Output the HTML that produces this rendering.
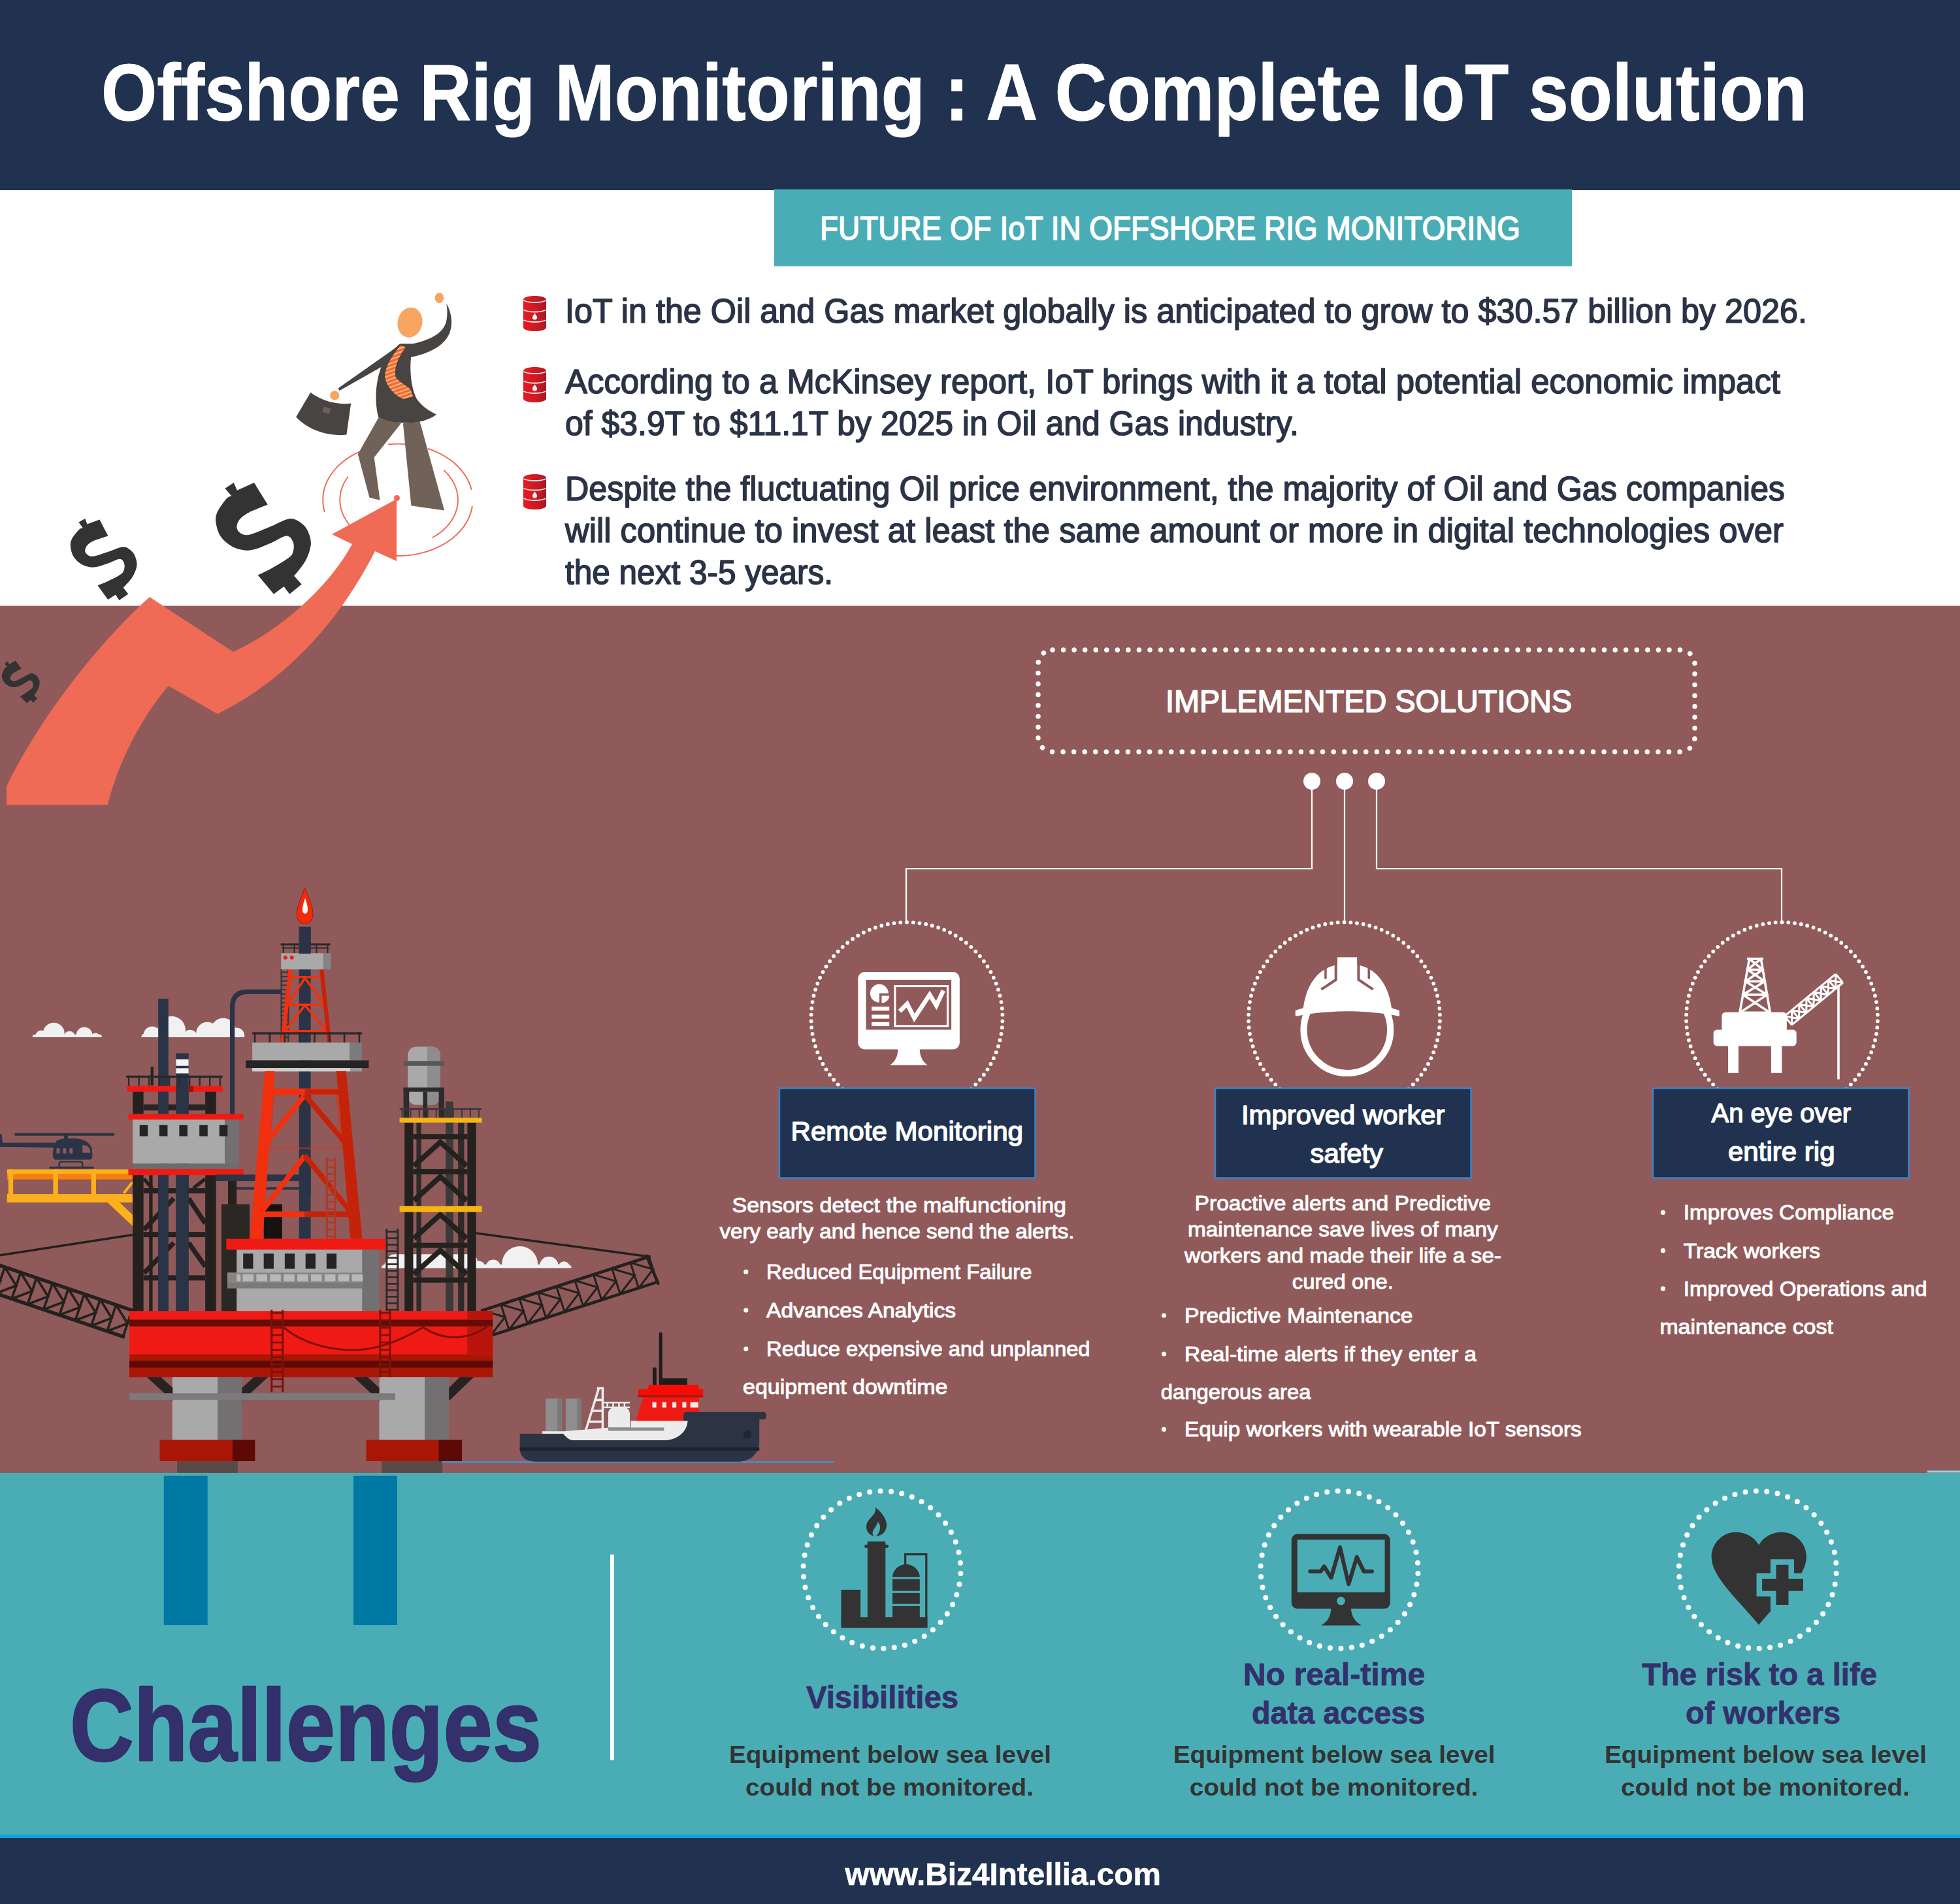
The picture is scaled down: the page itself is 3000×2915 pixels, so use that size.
<!DOCTYPE html>
<html><head><meta charset="utf-8"><title>Offshore Rig Monitoring : A Complete IoT solution</title>
<style>
html,body{margin:0;padding:0;background:#fff;}
body{width:3000px;height:2915px;overflow:hidden;font-family:"Liberation Sans",sans-serif;}
svg{display:block;font-family:"Liberation Sans",sans-serif;}
</style></head><body>
<svg width="3000" height="2915" viewBox="0 0 3000 2915">
<rect x="0" y="0" width="3000" height="2915" fill="#ffffff"/>
<rect x="0" y="0" width="3000" height="291" fill="#203250"/>
<rect x="1185" y="290" width="1221" height="117.5" fill="#4aadb6"/>
<rect x="0" y="927.5" width="3000" height="1328" fill="#905a5b"/>
<rect x="0" y="2255" width="3000" height="556" fill="#4aadb6"/>
<rect x="0" y="2808.5" width="3000" height="6" fill="#0aa5dc"/>
<rect x="0" y="2814" width="3000" height="101" fill="#203250"/>
<g transform="translate(400 420) scale(0.2415)"><polyline points="400.4,1503.8 395.8,1485.3 392.5,1466.6 390.6,1447.8 390.0,1429.0 390.7,1410.1 392.8,1391.4 396.2,1372.7 401.0,1354.2 407.0,1335.9 414.3,1317.8 422.9,1300.1 432.8,1282.8 443.8,1265.9 456.1,1249.4 469.5,1233.4 484.0,1218.0 499.6,1203.2 516.2,1189.0 533.8,1175.5 552.3,1162.8 571.7,1150.7 592.0,1139.5 613.0,1129.1 634.7,1119.5" fill="none" stroke="#ef6b55" stroke-width="8" stroke-linecap="round"/><polyline points="807.1,1077.6 811.6,1077.3 816.0,1076.9 820.5,1076.6 825.0,1076.3 829.5,1076.0 833.9,1075.8 838.4,1075.6 842.9,1075.4 847.4,1075.2 851.9,1075.1 856.4,1075.1 860.9,1075.0 865.3,1075.0 869.8,1075.0 874.3,1075.1 878.8,1075.2 883.3,1075.3 887.8,1075.4 892.3,1075.6 896.8,1075.8 901.2,1076.0 905.7,1076.3 910.2,1076.6 914.7,1076.9" fill="none" stroke="#ef6b55" stroke-width="8" stroke-linecap="round"/><polyline points="1058.2,1105.7 1075.4,1111.7 1092.3,1118.3 1108.8,1125.3 1124.9,1132.8 1140.6,1140.8 1155.8,1149.3 1170.6,1158.2 1184.9,1167.6 1198.7,1177.3 1211.9,1187.5 1224.6,1198.1 1236.7,1209.0 1248.3,1220.3 1259.2,1231.9 1269.5,1243.9 1279.1,1256.1 1288.1,1268.6 1296.4,1281.4 1304.0,1294.4 1310.9,1307.6 1317.1,1321.0 1322.5,1334.6 1327.3,1348.4 1331.3,1362.3" fill="none" stroke="#ef6b55" stroke-width="8" stroke-linecap="round"/><polyline points="1336.5,1473.3 1332.0,1494.7 1325.9,1515.9 1318.0,1536.8 1308.5,1557.2 1297.2,1577.2 1284.4,1596.7 1270.0,1615.5 1254.1,1633.6 1236.7,1651.0 1218.0,1667.5 1197.9,1683.2 1176.6,1697.9 1154.2,1711.6 1130.6,1724.3 1106.1,1735.9 1080.6,1746.3 1054.4,1755.6 1027.5,1763.6 999.9,1770.4 971.9,1775.9 943.4,1780.1 914.7,1783.1 885.7,1784.7 856.7,1784.9" fill="none" stroke="#ef6b55" stroke-width="8" stroke-linecap="round"/><polyline points="561.9,1592.2 552.5,1580.8 543.8,1569.1 535.9,1557.1 528.6,1544.9 522.1,1532.3 516.3,1519.6 511.3,1506.7 507.1,1493.6 503.7,1480.4 501.1,1467.0 499.2,1453.6 498.2,1440.1 498.0,1426.6 498.6,1413.1 500.0,1399.7 502.3,1386.3 505.3,1373.0 509.1,1359.8 513.7,1346.8 519.1,1334.0 525.2,1321.4 532.1,1309.0 539.8,1296.8 548.1,1285.0" fill="none" stroke="#ef6b55" stroke-width="8" stroke-linecap="round"/><polyline points="1158.5,1243.6 1174.4,1259.4 1188.9,1276.0 1201.8,1293.3 1213.2,1311.3 1223.0,1329.8 1231.1,1348.8 1237.4,1368.3 1242.1,1388.0 1244.9,1407.9 1246.0,1427.9 1245.3,1447.9 1242.8,1467.9 1238.5,1487.6 1232.5,1507.1 1224.8,1526.2 1215.4,1544.9 1204.4,1563.0 1191.7,1580.4 1177.6,1597.2 1162.0,1613.2 1145.0,1628.2 1126.7,1642.4 1107.2,1655.5 1086.5,1667.6" fill="none" stroke="#ef6b55" stroke-width="8" stroke-linecap="round"/></g>
<path d="M10,1232 L10,1204 C60,1100 150,985 229,914 L357,998 C420,970 500,905 539,833 L508,818 L607,764 L607,859 L574,844 C520,950 440,1040 333,1093 L258,1050 C215,1100 180,1170 165,1232 Z" fill="#ef6b55"/>
<circle cx="607.5" cy="762.5" r="4.5" fill="#ef6b55"/>
<g transform="translate(158 856.5) rotate(4) scale(0.0821) translate(-890 -900)"><path d="M385,240 L500,165 L545,265 L770,165 L950,455 C908.3,472.5 761.7,527.5 700.0,560.0 C638.3,592.5 606.7,616.7 580.0,650.0 C553.3,683.3 536.7,728.3 540.0,760.0 C543.3,791.7 570.0,825.0 600.0,840.0 C630.0,855.0 653.3,866.7 720.0,850.0 C786.7,833.3 911.7,775.0 1000.0,740.0 C1088.3,705.0 1180.0,643.3 1250.0,640.0 C1320.0,636.7 1378.3,685.0 1420.0,720.0 C1461.7,755.0 1483.3,803.3 1500.0,850.0 C1516.7,896.7 1528.3,941.7 1520.0,1000.0 C1511.7,1058.3 1486.7,1133.3 1450.0,1200.0 C1413.3,1266.7 1325.0,1366.7 1300.0,1400.0 L1400,1510 L1240,1640 L1165,1540 L1030,1640 L820,1390 C850.0,1375.0 936.7,1335.0 1000.0,1300.0 C1063.3,1265.0 1153.3,1213.3 1200.0,1180.0 C1246.7,1146.7 1265.0,1136.7 1280.0,1100.0 C1295.0,1063.3 1303.3,998.3 1290.0,960.0 C1276.7,921.7 1248.3,870.0 1200.0,870.0 C1151.7,870.0 1066.7,931.7 1000.0,960.0 C933.3,988.3 858.3,1023.3 800.0,1040.0 C741.7,1056.7 703.3,1065.0 650.0,1060.0 C596.7,1055.0 533.3,1040.0 480.0,1010.0 C426.7,980.0 365.8,931.7 330.0,880.0 C294.2,828.3 273.3,753.3 265.0,700.0 C256.7,646.7 257.5,613.3 280.0,560.0 C302.5,506.7 368.3,416.7 400.0,380.0 C431.7,343.3 458.3,346.7 470.0,340.0 Z" fill="#333333"/></g>
<g transform="translate(402.8 824) rotate(0) scale(0.1155) translate(-890 -900)"><path d="M385,240 L500,165 L545,265 L770,165 L950,455 C908.3,472.5 761.7,527.5 700.0,560.0 C638.3,592.5 606.7,616.7 580.0,650.0 C553.3,683.3 536.7,728.3 540.0,760.0 C543.3,791.7 570.0,825.0 600.0,840.0 C630.0,855.0 653.3,866.7 720.0,850.0 C786.7,833.3 911.7,775.0 1000.0,740.0 C1088.3,705.0 1180.0,643.3 1250.0,640.0 C1320.0,636.7 1378.3,685.0 1420.0,720.0 C1461.7,755.0 1483.3,803.3 1500.0,850.0 C1516.7,896.7 1528.3,941.7 1520.0,1000.0 C1511.7,1058.3 1486.7,1133.3 1450.0,1200.0 C1413.3,1266.7 1325.0,1366.7 1300.0,1400.0 L1400,1510 L1240,1640 L1165,1540 L1030,1640 L820,1390 C850.0,1375.0 936.7,1335.0 1000.0,1300.0 C1063.3,1265.0 1153.3,1213.3 1200.0,1180.0 C1246.7,1146.7 1265.0,1136.7 1280.0,1100.0 C1295.0,1063.3 1303.3,998.3 1290.0,960.0 C1276.7,921.7 1248.3,870.0 1200.0,870.0 C1151.7,870.0 1066.7,931.7 1000.0,960.0 C933.3,988.3 858.3,1023.3 800.0,1040.0 C741.7,1056.7 703.3,1065.0 650.0,1060.0 C596.7,1055.0 533.3,1040.0 480.0,1010.0 C426.7,980.0 365.8,931.7 330.0,880.0 C294.2,828.3 273.3,753.3 265.0,700.0 C256.7,646.7 257.5,613.3 280.0,560.0 C302.5,506.7 368.3,416.7 400.0,380.0 C431.7,343.3 458.3,346.7 470.0,340.0 Z" fill="#333333"/></g>
<g transform="translate(32 1044) rotate(-5) scale(0.045) translate(-890 -900)"><path d="M385,240 L500,165 L545,265 L770,165 L950,455 C908.3,472.5 761.7,527.5 700.0,560.0 C638.3,592.5 606.7,616.7 580.0,650.0 C553.3,683.3 536.7,728.3 540.0,760.0 C543.3,791.7 570.0,825.0 600.0,840.0 C630.0,855.0 653.3,866.7 720.0,850.0 C786.7,833.3 911.7,775.0 1000.0,740.0 C1088.3,705.0 1180.0,643.3 1250.0,640.0 C1320.0,636.7 1378.3,685.0 1420.0,720.0 C1461.7,755.0 1483.3,803.3 1500.0,850.0 C1516.7,896.7 1528.3,941.7 1520.0,1000.0 C1511.7,1058.3 1486.7,1133.3 1450.0,1200.0 C1413.3,1266.7 1325.0,1366.7 1300.0,1400.0 L1400,1510 L1240,1640 L1165,1540 L1030,1640 L820,1390 C850.0,1375.0 936.7,1335.0 1000.0,1300.0 C1063.3,1265.0 1153.3,1213.3 1200.0,1180.0 C1246.7,1146.7 1265.0,1136.7 1280.0,1100.0 C1295.0,1063.3 1303.3,998.3 1290.0,960.0 C1276.7,921.7 1248.3,870.0 1200.0,870.0 C1151.7,870.0 1066.7,931.7 1000.0,960.0 C933.3,988.3 858.3,1023.3 800.0,1040.0 C741.7,1056.7 703.3,1065.0 650.0,1060.0 C596.7,1055.0 533.3,1040.0 480.0,1010.0 C426.7,980.0 365.8,931.7 330.0,880.0 C294.2,828.3 273.3,753.3 265.0,700.0 C256.7,646.7 257.5,613.3 280.0,560.0 C302.5,506.7 368.3,416.7 400.0,380.0 C431.7,343.3 458.3,346.7 470.0,340.0 Z" fill="#333333"/></g>
<g transform="translate(400 420) scale(0.2415)"><polygon points="745,905 885,945 715,1160 752,1432 685,1415 612,1140" fill="#716259"/><polygon points="898,945 1005,935 1160,1497 950,1467" fill="#716259"/><polygon points="885,442 488,722 494,738 800,565" fill="#484441"/><path d="M940,445 C1060,420 1150,380 1172,300 C1180,260 1180,220 1173,185 C1200,230 1212,290 1202,340 C1185,440 1080,500 935,528 Z" fill="#484441"/><path d="M878,440 L962,440 C935,560 940,700 985,790 C1020,840 1070,870 1110,888 C1060,930 960,950 870,940 C820,935 775,920 742,905 C715,800 720,650 790,520 Z" fill="#484441"/><path d="M882,450 L915,462 C870,520 840,590 850,650 C880,690 930,710 945,730 L962,775 L900,790 C850,770 800,720 785,660 C780,600 810,540 882,450 Z" fill="#f26a3c"/><clipPath id="tieclip"><path d="M882,450 L915,462 C870,520 840,590 850,650 C880,690 930,710 945,730 L962,775 L900,790 C850,770 800,720 785,660 C780,600 810,540 882,450 Z"/></clipPath><g clip-path="url(#tieclip)"><line x1="760" y1="510" x2="990" y2="430" stroke="#fbb471" stroke-width="9"/><line x1="760" y1="535" x2="990" y2="455" stroke="#fbb471" stroke-width="9"/><line x1="760" y1="560" x2="990" y2="480" stroke="#fbb471" stroke-width="9"/><line x1="760" y1="585" x2="990" y2="505" stroke="#fbb471" stroke-width="9"/><line x1="760" y1="610" x2="990" y2="530" stroke="#fbb471" stroke-width="9"/><line x1="760" y1="635" x2="990" y2="555" stroke="#fbb471" stroke-width="9"/><line x1="760" y1="660" x2="990" y2="580" stroke="#fbb471" stroke-width="9"/><line x1="760" y1="685" x2="990" y2="605" stroke="#fbb471" stroke-width="9"/><line x1="760" y1="710" x2="990" y2="630" stroke="#fbb471" stroke-width="9"/><line x1="760" y1="735" x2="990" y2="655" stroke="#fbb471" stroke-width="9"/><line x1="760" y1="760" x2="990" y2="680" stroke="#fbb471" stroke-width="9"/><line x1="760" y1="785" x2="990" y2="705" stroke="#fbb471" stroke-width="9"/><line x1="760" y1="810" x2="990" y2="730" stroke="#fbb471" stroke-width="9"/><line x1="760" y1="835" x2="990" y2="755" stroke="#fbb471" stroke-width="9"/></g><ellipse cx="942" cy="305" rx="78" ry="96" fill="#f8a562" transform="rotate(12 942 305)"/><ellipse cx="1128" cy="150" rx="28" ry="33" fill="#f8a562"/><circle cx="465" cy="768" r="29" fill="#f8a562"/><path d="M312,748 C380,800 480,830 568,818 L540,1017 C430,1030 300,990 220,905 Z" fill="#484441"/><polygon points="395,840 440,850 432,885 387,875" fill="#6b5f57"/></g>
<clipPath id="cl1"><rect x="-10.350000000000001" y="1287.8" width="226.39" height="300"/></clipPath><g clip-path="url(#cl1)"><rect x="49.65" y="1583.83" width="106.39" height="7.94" rx="3.97" fill="#f1f1f1"/><circle cx="82.27" cy="1582.13" r="16.45" fill="#f1f1f1" /><circle cx="62.98" cy="1586.1" r="8.51" fill="#f1f1f1" /><circle cx="106.39" cy="1587.24" r="8.51" fill="#f1f1f1" /><circle cx="129.08" cy="1584.97" r="12.48" fill="#f1f1f1" /><circle cx="146.11" cy="1588.37" r="6.81" fill="#f1f1f1" /></g>
<clipPath id="cl2"><rect x="156.32" y="1287.98" width="277.51" height="300"/></clipPath><g clip-path="url(#cl2)"><rect x="216.32" y="1582.02" width="157.51" height="11.94" rx="5.97" fill="#f1f1f1"/><circle cx="232.9" cy="1584.67" r="13.26" fill="#f1f1f1" /><circle cx="262.74" cy="1577.04" r="21.22" fill="#f1f1f1" /><circle cx="290.93" cy="1587.98" r="11.27" fill="#f1f1f1" /><circle cx="317.46" cy="1582.02" r="17.24" fill="#f1f1f1" /><circle cx="341.66" cy="1578.04" r="19.23" fill="#f1f1f1" /><circle cx="362.22" cy="1585.33" r="11.94" fill="#f1f1f1" /></g>
<clipPath id="cl3"><rect x="523.93" y="1641.33" width="410.81" height="300"/></clipPath><g clip-path="url(#cl3)"><rect x="583.93" y="1935.71" width="290.81" height="11.22" rx="5.61" fill="#f1f1f1"/><circle cx="795.66" cy="1935.46" r="27.55" fill="#f1f1f1" /><circle cx="754.85" cy="1939.8" r="11.22" fill="#f1f1f1" /><circle cx="733.16" cy="1939.8" r="9.18" fill="#f1f1f1" /><circle cx="840.31" cy="1938.01" r="14.29" fill="#f1f1f1" /><circle cx="863.26" cy="1939.8" r="8.67" fill="#f1f1f1" /><circle cx="599.24" cy="1939.8" r="11.73" fill="#f1f1f1" /><circle cx="707.65" cy="1939.8" r="11.22" fill="#f1f1f1" /></g>
<rect x="592.86" y="1920.15" width="137.75" height="21.17" rx="10.2" fill="#f1f1f1"/>
<line x1="0.0" y1="1921.72" x2="202.85" y2="1890.51" stroke="#24211f" stroke-width="3.4" />
<line x1="726.79" y1="1887.75" x2="994.64" y2="1923.98" stroke="#24211f" stroke-width="3.57" />
<g transform="translate(-17.02 1931.65) rotate(18.75)"><path d="M0.0,0 V42.5 M0.0,0 L25.7,21.3 L0.0,42.5 M25.7,0 V42.5 M25.7,0 L51.4,21.3 L25.7,42.5 M51.4,0 V42.5 M51.4,0 L77.1,21.3 L51.4,42.5 M77.1,0 V42.5 M77.1,0 L102.8,21.3 L77.1,42.5 M102.8,0 V42.5 M102.8,0 L128.5,21.3 L102.8,42.5 M128.5,0 V42.5 M128.5,0 L154.2,21.3 L128.5,42.5 M154.2,0 V42.5 M154.2,0 L179.9,21.3 L154.2,42.5 M179.9,0 V42.5 M179.9,0 L205.6,21.3 L179.9,42.5 M205.6,0 V42.5 M205.6,0 L231.3,21.3 L205.6,42.5 M231.3,0 V42.5" fill="none" stroke="#24211f" stroke-width="3.69"/><path d="M0,0 H231.3 M0,42.5 H231.3" fill="none" stroke="#24211f" stroke-width="5.39" stroke-linecap="square"/></g>
<g transform="translate(738.26 2006.12) rotate(-17.85)"><path d="M0.0,0 V40.8 M0.0,0 L29.8,20.4 L0.0,40.8 M29.8,0 V40.8 M29.8,0 L59.6,20.4 L29.8,40.8 M59.6,0 V40.8 M59.6,0 L89.3,20.4 L59.6,40.8 M89.3,0 V40.8 M89.3,0 L119.1,20.4 L89.3,40.8 M119.1,0 V40.8 M119.1,0 L148.9,20.4 L119.1,40.8 M148.9,0 V40.8 M148.9,0 L178.7,20.4 L148.9,40.8 M178.7,0 V40.8 M178.7,0 L208.5,20.4 L178.7,40.8 M208.5,0 V40.8 M208.5,0 L238.2,20.4 L208.5,40.8 M238.2,0 V40.8 M238.2,0 L268.0,20.4 L238.2,40.8 M268.0,0 V40.8" fill="none" stroke="#24211f" stroke-width="3.06"/><path d="M0,0 H268.0 M0,40.8 H268.0" fill="none" stroke="#24211f" stroke-width="4.59" stroke-linecap="square"/></g>
<line x1="989.54" y1="1922.7" x2="1007.4" y2="1964.8" stroke="#24211f" stroke-width="4.59" stroke-linecap="round"/>
<polygon points="163.13,1839.44 181.57,1839.44 203.7,1860.72 203.7,1877.74" fill="#fbb01c" />
<rect x="10.78" y="1790.36" width="192.06" height="7.38" fill="#fbb01c" />
<rect x="10.78" y="1797.17" width="192.06" height="8.51" fill="#f77f0d" />
<rect x="12.77" y="1790.36" width="7.38" height="50.5" fill="#fbb01c" />
<rect x="81.42" y="1790.36" width="7.38" height="50.5" fill="#fbb01c" />
<rect x="139.58" y="1790.36" width="7.38" height="50.5" fill="#fbb01c" />
<rect x="10.78" y="1828.1" width="192.06" height="12.77" fill="#fbb01c" />
<line x1="189.51" y1="1826.68" x2="202.85" y2="1809.66" stroke="#fbb01c" stroke-width="3.97" />
<g transform="translate(0 1560) scale(0.2837)"><rect x="78" y="616" width="540" height="14" rx="6" fill="#2b3447"/><rect x="345" y="628" width="22" height="26" fill="#2b3447"/><path d="M300,670 C300,650 330,645 395,645 C470,645 498,680 498,720 V745 C498,755 490,760 480,760 H300 C285,760 275,720 300,670 Z" fill="#2b3447"/><path d="M0,668 L300,668 V694 L0,690 Z" fill="#2b3447"/><path d="M-10,620 L8,620 L18,690 L-10,690 Z" fill="#2b3447"/><path d="M445,680 C475,680 488,700 488,722 H445 Z" fill="#905a5b"/><rect x="305" y="698" width="17" height="28" rx="4" fill="#905a5b"/><rect x="340" y="698" width="17" height="28" rx="4" fill="#905a5b"/><rect x="375" y="698" width="17" height="28" rx="4" fill="#905a5b"/><path d="M320,800 V780 C320,772 328,770 335,770 H430 C440,770 445,775 445,782 V800" fill="none" stroke="#2b3447" stroke-width="9"/><rect x="265" y="797" width="242" height="11" rx="5" fill="#2b3447"/></g>
<rect x="242.18" y="1528.96" width="15.59" height="301.09" fill="#2b3447" />
<rect x="242.18" y="1780.0" width="15.59" height="228.8" fill="#2b3447" />
<rect x="269.38" y="1612.52" width="19.23" height="217.53" fill="#2b3447" />
<rect x="269.38" y="1780.0" width="19.23" height="228.8" fill="#2b3447" />
<rect x="269.38" y="1621.81" width="19.23" height="9.95" fill="#f4f4f4" />
<rect x="269.38" y="1635.4" width="19.23" height="7.96" fill="#f4f4f4" />
<rect x="230.58" y="1633.41" width="4.31" height="28.19" fill="#24211f" />
<rect x="193.11" y="1646.68" width="147.56" height="3.32" fill="#2a2a2c" /><rect x="195.93" y="1646.68" width="2.32" height="15.92" fill="#2a2a2c" /><rect x="211.44" y="1646.68" width="2.32" height="15.92" fill="#2a2a2c" /><rect x="226.95" y="1646.68" width="2.32" height="15.92" fill="#2a2a2c" /><rect x="242.46" y="1646.68" width="2.32" height="15.92" fill="#2a2a2c" /><rect x="257.97" y="1646.68" width="2.32" height="15.92" fill="#2a2a2c" /><rect x="273.48" y="1646.68" width="2.32" height="15.92" fill="#2a2a2c" /><rect x="289.0" y="1646.68" width="2.32" height="15.92" fill="#2a2a2c" /><rect x="304.51" y="1646.68" width="2.32" height="15.92" fill="#2a2a2c" /><rect x="320.02" y="1646.68" width="2.32" height="15.92" fill="#2a2a2c" /><rect x="335.53" y="1646.68" width="2.32" height="15.92" fill="#2a2a2c" />
<rect x="194.1" y="1662.59" width="146.57" height="8.95" fill="#f01a14" />
<rect x="288.61" y="1662.59" width="7.3" height="8.95" fill="#a00f0a" />
<rect x="203.06" y="1671.55" width="16.58" height="34.82" fill="#24211f" />
<rect x="314.14" y="1671.55" width="16.58" height="34.82" fill="#24211f" />
<rect x="219.64" y="1690.78" width="94.51" height="9.28" fill="#24211f" opacity="0.95"/>
<rect x="242.18" y="1671.55" width="15.59" height="34.82" fill="#2b3447" />
<rect x="269.38" y="1661.6" width="19.23" height="44.77" fill="#2b3447" />
<path d="M431.86,1518.35 H378.8 Q355.59,1518.35 355.59,1542.22 V1706.37" fill="none" stroke="#2b3447" stroke-width="7.3"/>
<rect x="196.42" y="1705.37" width="176.41" height="8.62" fill="#f01a14" />
<rect x="203.06" y="1713.99" width="140.93" height="67.65" fill="#a9a9a9" />
<rect x="343.99" y="1713.99" width="21.55" height="67.65" fill="#737071" />
<rect x="203.06" y="1781.64" width="162.48" height="8.62" fill="#6e6b6c" />
<rect x="213.67" y="1722.28" width="12.6" height="17.24" fill="#262322" />
<rect x="243.84" y="1722.28" width="12.6" height="17.24" fill="#262322" />
<rect x="274.35" y="1722.28" width="12.6" height="17.24" fill="#262322" />
<rect x="305.19" y="1722.28" width="12.6" height="17.24" fill="#262322" />
<rect x="335.7" y="1722.28" width="12.6" height="17.24" fill="#262322" />
<rect x="196.42" y="1789.95" width="176.41" height="9.28" fill="#f01a14" />
<rect x="203.06" y="1799.23" width="16.58" height="209.57" fill="#24211f" />
<rect x="314.14" y="1799.23" width="16.58" height="209.57" fill="#24211f" />
<rect x="348.96" y="1799.23" width="13.26" height="209.57" fill="#24211f" />
<rect x="228.26" y="1799.23" width="5.31" height="209.57" fill="#24211f" />
<rect x="219.64" y="1819.13" width="94.51" height="7.96" fill="#24211f" />
<rect x="219.64" y="1886.11" width="94.51" height="7.96" fill="#24211f" />
<rect x="219.64" y="1952.43" width="94.51" height="7.96" fill="#24211f" />
<line x1="266.06" y1="1834.71" x2="220.3" y2="1882.8" stroke="#24211f" stroke-width="7.3" />
<line x1="288.61" y1="1834.71" x2="314.14" y2="1872.85" stroke="#24211f" stroke-width="7.3" />
<line x1="266.06" y1="1902.69" x2="220.3" y2="1949.12" stroke="#24211f" stroke-width="7.3" />
<line x1="288.61" y1="1902.69" x2="314.14" y2="1939.17" stroke="#24211f" stroke-width="7.3" />
<line x1="220.3" y1="1804.87" x2="232.9" y2="1819.13" stroke="#24211f" stroke-width="5.31" />
<line x1="314.14" y1="1804.87" x2="295.9" y2="1819.13" stroke="#24211f" stroke-width="5.31" />
<rect x="242.18" y="1799.23" width="15.59" height="209.57" fill="#2b3447" />
<rect x="269.38" y="1799.23" width="19.23" height="209.57" fill="#2b3447" />
<rect x="330.72" y="1798.24" width="127.67" height="9.95" fill="#2b3447" />
<rect x="362.22" y="1817.47" width="96.16" height="3.98" fill="#2b3447" />
<rect x="339.01" y="1843.67" width="43.11" height="165.14" fill="#2a2725" />
<rect x="403.67" y="1843.67" width="28.19" height="53.06" fill="#17120f" />
<rect x="457.72" y="1418.87" width="17.91" height="411.18" fill="#2b3447" />
<rect x="457.72" y="1780.0" width="17.91" height="116.72" fill="#2b3447" />
<rect x="429.54" y="1484.19" width="2.32" height="111.09" fill="#3a3637" /><rect x="440.15" y="1484.19" width="2.32" height="111.09" fill="#3a3637" /><rect x="429.54" y="1487.51" width="12.93" height="2.09" fill="#3a3637" /><rect x="429.54" y="1494.14" width="12.93" height="2.09" fill="#3a3637" /><rect x="429.54" y="1500.77" width="12.93" height="2.09" fill="#3a3637" /><rect x="429.54" y="1507.41" width="12.93" height="2.09" fill="#3a3637" /><rect x="429.54" y="1514.04" width="12.93" height="2.09" fill="#3a3637" /><rect x="429.54" y="1520.67" width="12.93" height="2.09" fill="#3a3637" /><rect x="429.54" y="1527.3" width="12.93" height="2.09" fill="#3a3637" /><rect x="429.54" y="1533.93" width="12.93" height="2.09" fill="#3a3637" /><rect x="429.54" y="1540.57" width="12.93" height="2.09" fill="#3a3637" /><rect x="429.54" y="1547.2" width="12.93" height="2.09" fill="#3a3637" /><rect x="429.54" y="1553.83" width="12.93" height="2.09" fill="#3a3637" /><rect x="429.54" y="1560.46" width="12.93" height="2.09" fill="#3a3637" /><rect x="429.54" y="1567.09" width="12.93" height="2.09" fill="#3a3637" /><rect x="429.54" y="1573.73" width="12.93" height="2.09" fill="#3a3637" /><rect x="429.54" y="1580.36" width="12.93" height="2.09" fill="#3a3637" /><rect x="429.54" y="1586.99" width="12.93" height="2.09" fill="#3a3637" />
<g transform="translate(150 1330) scale(0.3316)"><path d="M888,465 L852,800 M1032,465 L1068,800" fill="none" stroke="#f2300f" stroke-width="19" stroke-linejoin="round"/></g>
<g transform="translate(150 1330) scale(0.3316)"><path d="M884,500 H1036 M872,628 H1048 M858,750 H1062 M955,505 L876,625 M955,505 L1044,625 M955,630 L865,748 M955,630 L1056,748" fill="none" stroke="#f2300f" stroke-width="11"/></g>
<g transform="translate(150 1330) scale(0.3316)"><path d="M1032,465 L1068,800" fill="none" stroke="#c4230a" stroke-width="19"/></g>
<rect x="429.54" y="1444.4" width="75.94" height="2.98" fill="#2a2a2c" /><rect x="432.19" y="1450.37" width="70.63" height="1.99" fill="#2a2a2c" /><rect x="432.52" y="1444.4" width="1.99" height="14.92" fill="#2a2a2c" /><rect x="449.52" y="1444.4" width="1.99" height="14.92" fill="#2a2a2c" /><rect x="466.51" y="1444.4" width="1.99" height="14.92" fill="#2a2a2c" /><rect x="483.51" y="1444.4" width="1.99" height="14.92" fill="#2a2a2c" /><rect x="500.5" y="1444.4" width="1.99" height="14.92" fill="#2a2a2c" />
<rect x="430.2" y="1459.32" width="64.66" height="24.87" fill="#a9a9a9" />
<rect x="494.86" y="1459.32" width="11.61" height="24.87" fill="#858585" />
<circle cx="436.83" cy="1465.96" r="2.98" fill="#f01a14" />
<circle cx="446.78" cy="1465.96" r="2.98" fill="#f01a14" />
<rect x="457.72" y="1418.87" width="17.91" height="41.12" fill="#2b3447" />
<g transform="translate(150 1330) scale(0.3316)"><path d="M955,88 C975,140 994,180 992,215 C990,240 975,255 955,255 C935,255 920,240 918,215 C916,180 935,140 955,88 Z" fill="#f22a0c" stroke="#a3150a" stroke-width="3"/><path d="M956,135 C964,160 969,178 968,192 C967,202 962,207 956,207 C950,207 945,202 944,192 C943,178 948,160 956,135 Z" fill="#fff"/></g>
<rect x="386.1" y="1580.36" width="167.79" height="3.32" fill="#2a2a2c" /><rect x="388.75" y="1580.36" width="2.65" height="15.92" fill="#2a2a2c" /><rect x="411.59" y="1580.36" width="2.65" height="15.92" fill="#2a2a2c" /><rect x="434.42" y="1580.36" width="2.65" height="15.92" fill="#2a2a2c" /><rect x="457.25" y="1580.36" width="2.65" height="15.92" fill="#2a2a2c" /><rect x="480.08" y="1580.36" width="2.65" height="15.92" fill="#2a2a2c" /><rect x="502.92" y="1580.36" width="2.65" height="15.92" fill="#2a2a2c" /><rect x="525.75" y="1580.36" width="2.65" height="15.92" fill="#2a2a2c" /><rect x="548.58" y="1580.36" width="2.65" height="15.92" fill="#2a2a2c" />
<rect x="386.1" y="1596.27" width="149.22" height="27.19" fill="#a9a9a9" />
<rect x="535.32" y="1596.27" width="18.57" height="27.19" fill="#7b7b7b" />
<rect x="376.15" y="1623.47" width="188.35" height="11.61" fill="#242424" />
<rect x="386.1" y="1635.07" width="150.21" height="5.31" fill="#cfcfcf" />
<rect x="536.31" y="1635.07" width="17.57" height="5.31" fill="#9a9a9a" />
<g transform="translate(150 1330) scale(0.3316)"><g opacity="0.9"></g><path d="M764,1290 H1154 M810,1045 L794,1290 M1100,1045 L1124,1290" fill="none" stroke="#d9321a" stroke-width="5"/><path d="M784,1030 H1131" fill="none" stroke="#f2300f" stroke-width="30"/><path d="M955,1045 L776,1265 M955,1045 L1142,1265 M955,1325 L750,1590 M955,1325 L1171,1590" fill="none" stroke="#f2300f" stroke-width="24"/><path d="M955,1045 L1142,1265 M955,1325 L1171,1590 M955,1030 H1131" fill="none" stroke="#c4230a" stroke-width="24"/><rect x="739" y="1582" width="216" height="26" fill="#f2300f"/><rect x="955" y="1582" width="227" height="26" fill="#c4230a"/><polygon points="770,935 815,935 760,1709 700,1709" fill="#f2300f"/><polygon points="1100,935 1145,935 1220,1709 1165,1709" fill="#c4230a"/></g>
<rect x="498.84" y="1771.71" width="2.98" height="125.01" fill="#b0392a" /><rect x="511.11" y="1771.71" width="2.98" height="125.01" fill="#b0392a" /><rect x="498.84" y="1775.03" width="15.25" height="2.69" fill="#b0392a" /><rect x="498.84" y="1785.64" width="15.25" height="2.69" fill="#b0392a" /><rect x="498.84" y="1796.25" width="15.25" height="2.69" fill="#b0392a" /><rect x="498.84" y="1806.86" width="15.25" height="2.69" fill="#b0392a" /><rect x="498.84" y="1817.47" width="15.25" height="2.69" fill="#b0392a" /><rect x="498.84" y="1828.08" width="15.25" height="2.69" fill="#b0392a" /><rect x="498.84" y="1838.69" width="15.25" height="2.69" fill="#b0392a" /><rect x="498.84" y="1849.3" width="15.25" height="2.69" fill="#b0392a" /><rect x="498.84" y="1859.92" width="15.25" height="2.69" fill="#b0392a" /><rect x="498.84" y="1870.53" width="15.25" height="2.69" fill="#b0392a" /><rect x="498.84" y="1881.14" width="15.25" height="2.69" fill="#b0392a" /><rect x="498.84" y="1891.75" width="15.25" height="2.69" fill="#b0392a" />
<rect x="624.19" y="1602.58" width="49.74" height="88.87" rx="12.6" fill="#a9a9a9"/>
<path d="M654.03,1602.58 H661.33 a12.6,12.6 0 0 1 12.6,12.6 V1678.84 a12.6,12.6 0 0 1 -12.6,12.6 H654.03 Z" fill="#8d8d8d"/>
<rect x="618.22" y="1624.46" width="61.68" height="7.3" fill="#575757" />
<rect x="617.56" y="1664.92" width="62.34" height="6.63" fill="#2e2b2b" />
<rect x="617.56" y="1664.92" width="8.62" height="46.42" fill="#2e2b2b" />
<rect x="671.61" y="1664.92" width="8.29" height="46.42" fill="#2e2b2b" />
<rect x="647.4" y="1671.55" width="6.63" height="39.79" fill="#2e2b2b" />
<rect x="682.22" y="1686.47" width="11.61" height="143.58" fill="#3c3939" />
<rect x="682.22" y="1780.0" width="11.61" height="228.8" fill="#3c3939" />
<rect x="611.59" y="1696.42" width="125.34" height="2.65" fill="#3a3738" /><rect x="614.57" y="1696.42" width="1.99" height="14.92" fill="#3a3738" /><rect x="627.61" y="1696.42" width="1.99" height="14.92" fill="#3a3738" /><rect x="640.66" y="1696.42" width="1.99" height="14.92" fill="#3a3738" /><rect x="653.7" y="1696.42" width="1.99" height="14.92" fill="#3a3738" /><rect x="666.74" y="1696.42" width="1.99" height="14.92" fill="#3a3738" /><rect x="679.79" y="1696.42" width="1.99" height="14.92" fill="#3a3738" /><rect x="692.83" y="1696.42" width="1.99" height="14.92" fill="#3a3738" /><rect x="705.87" y="1696.42" width="1.99" height="14.92" fill="#3a3738" /><rect x="718.92" y="1696.42" width="1.99" height="14.92" fill="#3a3738" /><rect x="731.96" y="1696.42" width="1.99" height="14.92" fill="#3a3738" />
<rect x="619.21" y="1718.65" width="13.26" height="290.15" fill="#24211f" /><rect x="715.38" y="1718.65" width="13.26" height="290.15" fill="#24211f" /><rect x="637.45" y="1718.65" width="7.3" height="290.15" fill="#2d2a29" /><rect x="701.12" y="1718.65" width="9.28" height="290.15" fill="#2d2a29" />
<rect x="632.48" y="1736.23" width="82.9" height="7.96" fill="#24211f" />
<rect x="632.48" y="1789.95" width="82.9" height="7.96" fill="#24211f" />
<rect x="632.48" y="1846.32" width="82.9" height="7.96" fill="#24211f" />
<rect x="632.48" y="1902.69" width="82.9" height="7.96" fill="#24211f" />
<rect x="632.48" y="1955.75" width="82.9" height="7.96" fill="#24211f" />
<g transform="translate(150 1780) scale(0.3316)"><path d="M1458,15 L1580,-95 L1702,15" fill="none" stroke="#24211f" stroke-width="24"/></g>
<g transform="translate(150 1780) scale(0.3316)"><path d="M1458,175 L1580,65 L1702,175" fill="none" stroke="#24211f" stroke-width="24"/></g>
<g transform="translate(150 1780) scale(0.3316)"><path d="M1458,350 L1580,240 L1702,350" fill="none" stroke="#24211f" stroke-width="24"/></g>
<g transform="translate(150 1780) scale(0.3316)"><path d="M1458,515 L1580,405 L1702,515" fill="none" stroke="#24211f" stroke-width="24"/></g>
<rect x="611.59" y="1711.34" width="126.01" height="7.3" fill="#f7b512" />
<rect x="611.59" y="1846.32" width="126.01" height="9.28" fill="#f7b512" />
<rect x="590.36" y="1881.14" width="2.98" height="127.67" fill="#2e2b2c" /><rect x="607.28" y="1881.14" width="2.98" height="127.67" fill="#2e2b2c" /><rect x="590.36" y="1884.45" width="19.9" height="2.69" fill="#2e2b2c" /><rect x="590.36" y="1894.4" width="19.9" height="2.69" fill="#2e2b2c" /><rect x="590.36" y="1904.35" width="19.9" height="2.69" fill="#2e2b2c" /><rect x="590.36" y="1914.3" width="19.9" height="2.69" fill="#2e2b2c" /><rect x="590.36" y="1924.25" width="19.9" height="2.69" fill="#2e2b2c" /><rect x="590.36" y="1934.19" width="19.9" height="2.69" fill="#2e2b2c" /><rect x="590.36" y="1944.14" width="19.9" height="2.69" fill="#2e2b2c" /><rect x="590.36" y="1954.09" width="19.9" height="2.69" fill="#2e2b2c" /><rect x="590.36" y="1964.04" width="19.9" height="2.69" fill="#2e2b2c" /><rect x="590.36" y="1973.99" width="19.9" height="2.69" fill="#2e2b2c" /><rect x="590.36" y="1983.93" width="19.9" height="2.69" fill="#2e2b2c" /><rect x="590.36" y="1993.88" width="19.9" height="2.69" fill="#2e2b2c" /><rect x="590.36" y="2003.83" width="19.9" height="2.69" fill="#2e2b2c" />
<rect x="346.31" y="1896.72" width="244.06" height="16.58" fill="#f01a14" />
<rect x="362.22" y="1913.3" width="192.33" height="95.5" fill="#a9a9a9" />
<rect x="554.55" y="1913.3" width="25.86" height="95.5" fill="#737071" />
<rect x="372.17" y="1919.27" width="15.25" height="23.21" fill="#262322" />
<rect x="403.67" y="1919.27" width="15.25" height="23.21" fill="#262322" />
<rect x="435.84" y="1919.27" width="15.25" height="23.21" fill="#262322" />
<rect x="467.67" y="1919.27" width="15.25" height="23.21" fill="#262322" />
<rect x="499.84" y="1919.27" width="15.25" height="23.21" fill="#262322" />
<rect x="347.97" y="1948.45" width="206.59" height="23.88" fill="#858585" />
<rect x="347.97" y="1948.45" width="14.26" height="3.98" fill="#858585" />
<rect x="371.51" y="1951.11" width="16.58" height="10.61" fill="#b9b9b9" />
<rect x="392.4" y="1951.11" width="16.58" height="10.61" fill="#b9b9b9" />
<rect x="413.29" y="1951.11" width="16.58" height="10.61" fill="#b9b9b9" />
<rect x="434.18" y="1951.11" width="16.58" height="10.61" fill="#b9b9b9" />
<rect x="455.07" y="1951.11" width="16.58" height="10.61" fill="#b9b9b9" />
<rect x="475.96" y="1951.11" width="16.58" height="10.61" fill="#b9b9b9" />
<rect x="496.85" y="1951.11" width="16.58" height="10.61" fill="#b9b9b9" />
<rect x="517.74" y="1951.11" width="16.58" height="10.61" fill="#b9b9b9" />
<rect x="538.64" y="1951.11" width="16.58" height="10.61" fill="#b9b9b9" />
<rect x="362.22" y="1951.11" width="5.97" height="10.61" fill="#b9b9b9" />
<rect x="347.97" y="1964.04" width="206.59" height="8.29" fill="#7a7a7a" />
<rect x="198.08" y="2007.15" width="556.09" height="101.14" fill="#f01a14" />
<rect x="198.08" y="2020.41" width="556.09" height="10.28" fill="#640c05" />
<rect x="198.08" y="2073.47" width="556.09" height="34.82" fill="#aa1606" />
<rect x="198.08" y="2083.41" width="556.09" height="10.28" fill="#5e0a04" />
<rect x="715.38" y="2007.15" width="38.8" height="13.26" fill="#b8140c" />
<rect x="715.38" y="2030.69" width="38.8" height="42.78" fill="#b8140c" />
<g transform="translate(150 1780) scale(0.3316)"><path d="M857,760 C950,840 1080,865 1180,865 C1290,865 1400,820 1500,760 C1560,800 1620,810 1670,805 C1720,800 1770,780 1805,748" fill="none" stroke="#7d0f08" stroke-width="9"/></g>
<rect x="414.29" y="2005.49" width="2.98" height="126.01" fill="#7a120b" /><rect x="431.2" y="2005.49" width="2.98" height="126.01" fill="#7a120b" /><rect x="414.29" y="2008.8" width="19.9" height="2.69" fill="#7a120b" /><rect x="414.29" y="2020.08" width="19.9" height="2.69" fill="#7a120b" /><rect x="414.29" y="2031.35" width="19.9" height="2.69" fill="#7a120b" /><rect x="414.29" y="2042.63" width="19.9" height="2.69" fill="#7a120b" /><rect x="414.29" y="2053.9" width="19.9" height="2.69" fill="#7a120b" /><rect x="414.29" y="2065.18" width="19.9" height="2.69" fill="#7a120b" /><rect x="414.29" y="2076.45" width="19.9" height="2.69" fill="#7a120b" /><rect x="414.29" y="2087.72" width="19.9" height="2.69" fill="#7a120b" /><rect x="414.29" y="2099.0" width="19.9" height="2.69" fill="#7a120b" /><rect x="414.29" y="2110.27" width="19.9" height="2.69" fill="#7a120b" /><rect x="414.29" y="2121.55" width="19.9" height="2.69" fill="#7a120b" />
<rect x="580.42" y="2005.49" width="2.98" height="126.01" fill="#7a120b" /><rect x="595.34" y="2005.49" width="2.98" height="126.01" fill="#7a120b" /><rect x="580.42" y="2008.8" width="17.91" height="2.69" fill="#7a120b" /><rect x="580.42" y="2020.08" width="17.91" height="2.69" fill="#7a120b" /><rect x="580.42" y="2031.35" width="17.91" height="2.69" fill="#7a120b" /><rect x="580.42" y="2042.63" width="17.91" height="2.69" fill="#7a120b" /><rect x="580.42" y="2053.9" width="17.91" height="2.69" fill="#7a120b" /><rect x="580.42" y="2065.18" width="17.91" height="2.69" fill="#7a120b" /><rect x="580.42" y="2076.45" width="17.91" height="2.69" fill="#7a120b" /><rect x="580.42" y="2087.72" width="17.91" height="2.69" fill="#7a120b" /><rect x="580.42" y="2099.0" width="17.91" height="2.69" fill="#7a120b" /><rect x="580.42" y="2110.27" width="17.91" height="2.69" fill="#7a120b" /><rect x="580.42" y="2121.55" width="17.91" height="2.69" fill="#7a120b" />
<rect x="263.74" y="2108.28" width="69.64" height="96.83" fill="#a9a9a9" />
<rect x="333.37" y="2108.28" width="37.14" height="96.83" fill="#737071" />
<rect x="580.42" y="2108.28" width="69.64" height="96.83" fill="#a9a9a9" />
<rect x="650.05" y="2108.28" width="37.14" height="96.83" fill="#737071" />
<polygon points="224.61,2108.28 246.16,2108.28 264.4,2124.86 264.4,2144.76" fill="#262322" />
<polygon points="410.31,2108.28 388.75,2108.28 370.51,2124.86 370.51,2144.76" fill="#262322" />
<polygon points="541.29,2108.28 562.84,2108.28 580.42,2124.86 580.42,2144.76" fill="#262322" />
<polygon points="725.33,2108.28 703.77,2108.28 687.19,2124.86 687.19,2144.76" fill="#262322" />
<rect x="198.08" y="2133.15" width="406.87" height="9.95" fill="#7c7a7a" />
<rect x="244.51" y="2204.45" width="111.09" height="32.5" fill="#aa1505" />
<rect x="355.59" y="2204.45" width="34.82" height="32.5" fill="#5f0904" />
<rect x="560.52" y="2204.45" width="110.75" height="32.5" fill="#aa1505" />
<rect x="671.28" y="2204.45" width="35.81" height="32.5" fill="#5f0904" />
<rect x="271.03" y="2236.94" width="92.85" height="17.91" fill="#5b4947" />
<rect x="584.4" y="2236.94" width="92.85" height="17.91" fill="#5b4947" />
<rect x="250.7" y="2259.5" width="67" height="228.5" fill="#0078a4"/>
<rect x="541" y="2259.5" width="67" height="228.5" fill="#0078a4"/>
<rect x="677" y="2237" width="600" height="2.5" fill="#3f8fd0"/>
<g transform="translate(700 1850) scale(0.2551)"><rect x="1210" y="745" width="20" height="320" fill="#1f1d1c"/><rect x="1172" y="955" width="23" height="110" fill="#1f1d1c"/><rect x="1230" y="1020" width="150" height="42" fill="#1f1d1c"/><path d="M1150,1058 H1445 L1452,1085 H1475 V1120 H1085 V1085 H1140 Z" fill="#fa0a05"/><polygon points="1120,1120 1450,1120 1450,1275 1070,1275" fill="#f01a14"/><rect x="1085" y="1120" width="390" height="14" fill="#b3140c"/><rect x="1170" y="1163" width="24" height="32" fill="#f7eaea"/><rect x="1230" y="1163" width="24" height="32" fill="#f7eaea"/><rect x="1290" y="1163" width="24" height="32" fill="#f7eaea"/><rect x="1350" y="1163" width="24" height="32" fill="#f7eaea"/><rect x="1398" y="1163" width="48" height="32" fill="#f7eaea"/><rect x="530" y="1142" width="98" height="198" fill="#8e8e8e"/><rect x="650" y="1142" width="95" height="198" fill="#8e8e8e"/><rect x="600" y="1142" width="28" height="198" fill="#7a7a7a"/><rect x="718" y="1142" width="27" height="198" fill="#7a7a7a"/><path d="M905,1315 V1235 C905,1205 925,1195 950,1195 H995 C1020,1195 1035,1210 1035,1235 V1315 Z" fill="#ececec"/><path d="M880,1165 H1035 M880,1195 H1035 M900,1165 V1200 M935,1165 V1200 M970,1165 V1200 M1003,1165 V1200" stroke="#ececec" stroke-width="10" fill="none"/><path d="M848,1082 L770,1335 M872,1078 V1335 M838,1080 H880 M832,1150 H872 M812,1215 H872 M792,1280 H872" stroke="#ececec" stroke-width="14" fill="none"/><path d="M375,1352 H1340 V1290 H1357 V1240 C1357,1228 1364,1222 1377,1222 H1835 C1848,1222 1853,1228 1853,1240 V1252 C1853,1262 1848,1267 1838,1267 H1812 V1400 C1812,1470 1760,1520 1680,1520 H470 C410,1520 375,1490 375,1440 Z" fill="#2c3444"/><rect x="375" y="1434" width="1437" height="20" fill="#1e222e"/><path d="M510,1338 H640 L905,1316 H1040 V1275 H1382 C1380,1340 1320,1392 1240,1392 H700 C670,1392 650,1370 635,1352 H510 Z" fill="#ececec"/><rect x="905" y="1315" width="335" height="20" fill="#8e8e8e"/><circle cx="1740" cy="1358" r="25" fill="#1f2531"/></g>
<defs><linearGradient id="barrelg" x1="0" x2="1" y1="0" y2="0"><stop offset="0" stop-color="#e51a1f"/><stop offset="0.5" stop-color="#cf1a24"/><stop offset="1" stop-color="#a81824"/></linearGradient></defs>
<g transform="translate(801 453)"><path d="M0,6 C0,-2 35,-2 35,6 L35,48 C35,56 0,56 0,48 Z" fill="url(#barrelg)"/><path d="M0.5,7 C8,11 27,11 34.5,7" stroke="#fde2df" stroke-width="1.8" fill="none"/><path d="M0.5,21.5 C8,25.5 27,25.5 34.5,21.5" stroke="#fde2df" stroke-width="1.8" fill="none"/><path d="M0.5,37 C8,41 27,41 34.5,37" stroke="#fde2df" stroke-width="1.8" fill="none"/><path d="M17.5,26.5 C19,29 21,31 21,33 a3.5,3.5 0 0 1 -7,0 C14,31 16,29 17.5,26.5 Z" fill="#fff"/></g>
<g transform="translate(801 562)"><path d="M0,6 C0,-2 35,-2 35,6 L35,48 C35,56 0,56 0,48 Z" fill="url(#barrelg)"/><path d="M0.5,7 C8,11 27,11 34.5,7" stroke="#fde2df" stroke-width="1.8" fill="none"/><path d="M0.5,21.5 C8,25.5 27,25.5 34.5,21.5" stroke="#fde2df" stroke-width="1.8" fill="none"/><path d="M0.5,37 C8,41 27,41 34.5,37" stroke="#fde2df" stroke-width="1.8" fill="none"/><path d="M17.5,26.5 C19,29 21,31 21,33 a3.5,3.5 0 0 1 -7,0 C14,31 16,29 17.5,26.5 Z" fill="#fff"/></g>
<g transform="translate(801 726)"><path d="M0,6 C0,-2 35,-2 35,6 L35,48 C35,56 0,56 0,48 Z" fill="url(#barrelg)"/><path d="M0.5,7 C8,11 27,11 34.5,7" stroke="#fde2df" stroke-width="1.8" fill="none"/><path d="M0.5,21.5 C8,25.5 27,25.5 34.5,21.5" stroke="#fde2df" stroke-width="1.8" fill="none"/><path d="M0.5,37 C8,41 27,41 34.5,37" stroke="#fde2df" stroke-width="1.8" fill="none"/><path d="M17.5,26.5 C19,29 21,31 21,33 a3.5,3.5 0 0 1 -7,0 C14,31 16,29 17.5,26.5 Z" fill="#fff"/></g>
<rect x="1589" y="995" width="1005" height="156" rx="22" ry="22" fill="none" stroke="#fff" stroke-width="7.5" stroke-linecap="round" stroke-dasharray="0.01 16.55"/>
<circle cx="2008" cy="1196" r="13" fill="#fff"/>
<circle cx="2058" cy="1196" r="13" fill="#fff"/>
<circle cx="2107" cy="1196" r="13" fill="#fff"/>
<path d="M2008,1196 V1330 H1387 V1412" fill="none" stroke="#fff" stroke-width="2.2"/>
<path d="M2058,1196 V1412" fill="none" stroke="#fff" stroke-width="2.2"/>
<path d="M2107,1196 V1330 H2727 V1412" fill="none" stroke="#fff" stroke-width="2.2"/>
<circle cx="1388.0" cy="1412.0" r="2.9" fill="#fff"/><circle cx="1397.8" cy="1412.3" r="2.9" fill="#fff"/><circle cx="1407.5" cy="1413.3" r="2.9" fill="#fff"/><circle cx="1417.2" cy="1414.9" r="2.9" fill="#fff"/><circle cx="1426.7" cy="1417.2" r="2.9" fill="#fff"/><circle cx="1436.1" cy="1420.1" r="2.9" fill="#fff"/><circle cx="1445.2" cy="1423.6" r="2.9" fill="#fff"/><circle cx="1454.1" cy="1427.7" r="2.9" fill="#fff"/><circle cx="1462.7" cy="1432.5" r="2.9" fill="#fff"/><circle cx="1470.9" cy="1437.7" r="2.9" fill="#fff"/><circle cx="1478.8" cy="1443.5" r="2.9" fill="#fff"/><circle cx="1486.3" cy="1449.8" r="2.9" fill="#fff"/><circle cx="1493.3" cy="1456.7" r="2.9" fill="#fff"/><circle cx="1499.9" cy="1463.9" r="2.9" fill="#fff"/><circle cx="1505.9" cy="1471.6" r="2.9" fill="#fff"/><circle cx="1511.5" cy="1479.7" r="2.9" fill="#fff"/><circle cx="1516.5" cy="1488.1" r="2.9" fill="#fff"/><circle cx="1520.9" cy="1496.8" r="2.9" fill="#fff"/><circle cx="1524.7" cy="1505.8" r="2.9" fill="#fff"/><circle cx="1527.9" cy="1515.1" r="2.9" fill="#fff"/><circle cx="1530.5" cy="1524.5" r="2.9" fill="#fff"/><circle cx="1532.5" cy="1534.1" r="2.9" fill="#fff"/><circle cx="1533.8" cy="1543.8" r="2.9" fill="#fff"/><circle cx="1534.4" cy="1553.6" r="2.9" fill="#fff"/><circle cx="1534.4" cy="1563.4" r="2.9" fill="#fff"/><circle cx="1533.8" cy="1573.2" r="2.9" fill="#fff"/><circle cx="1532.5" cy="1582.9" r="2.9" fill="#fff"/><circle cx="1530.5" cy="1592.5" r="2.9" fill="#fff"/><circle cx="1527.9" cy="1601.9" r="2.9" fill="#fff"/><circle cx="1524.7" cy="1611.2" r="2.9" fill="#fff"/><circle cx="1520.9" cy="1620.2" r="2.9" fill="#fff"/><circle cx="1516.5" cy="1628.9" r="2.9" fill="#fff"/><circle cx="1511.5" cy="1637.3" r="2.9" fill="#fff"/><circle cx="1505.9" cy="1645.4" r="2.9" fill="#fff"/><circle cx="1499.9" cy="1653.1" r="2.9" fill="#fff"/><circle cx="1493.3" cy="1660.3" r="2.9" fill="#fff"/><circle cx="1486.3" cy="1667.2" r="2.9" fill="#fff"/><circle cx="1478.8" cy="1673.5" r="2.9" fill="#fff"/><circle cx="1470.9" cy="1679.3" r="2.9" fill="#fff"/><circle cx="1462.7" cy="1684.5" r="2.9" fill="#fff"/><circle cx="1454.1" cy="1689.3" r="2.9" fill="#fff"/><circle cx="1445.2" cy="1693.4" r="2.9" fill="#fff"/><circle cx="1436.1" cy="1696.9" r="2.9" fill="#fff"/><circle cx="1426.7" cy="1699.8" r="2.9" fill="#fff"/><circle cx="1417.2" cy="1702.1" r="2.9" fill="#fff"/><circle cx="1407.5" cy="1703.7" r="2.9" fill="#fff"/><circle cx="1397.8" cy="1704.7" r="2.9" fill="#fff"/><circle cx="1388.0" cy="1705.0" r="2.9" fill="#fff"/><circle cx="1378.2" cy="1704.7" r="2.9" fill="#fff"/><circle cx="1368.5" cy="1703.7" r="2.9" fill="#fff"/><circle cx="1358.8" cy="1702.1" r="2.9" fill="#fff"/><circle cx="1349.3" cy="1699.8" r="2.9" fill="#fff"/><circle cx="1339.9" cy="1696.9" r="2.9" fill="#fff"/><circle cx="1330.8" cy="1693.4" r="2.9" fill="#fff"/><circle cx="1321.9" cy="1689.3" r="2.9" fill="#fff"/><circle cx="1313.3" cy="1684.5" r="2.9" fill="#fff"/><circle cx="1305.1" cy="1679.3" r="2.9" fill="#fff"/><circle cx="1297.2" cy="1673.5" r="2.9" fill="#fff"/><circle cx="1289.7" cy="1667.2" r="2.9" fill="#fff"/><circle cx="1282.7" cy="1660.3" r="2.9" fill="#fff"/><circle cx="1276.1" cy="1653.1" r="2.9" fill="#fff"/><circle cx="1270.1" cy="1645.4" r="2.9" fill="#fff"/><circle cx="1264.5" cy="1637.3" r="2.9" fill="#fff"/><circle cx="1259.5" cy="1628.9" r="2.9" fill="#fff"/><circle cx="1255.1" cy="1620.2" r="2.9" fill="#fff"/><circle cx="1251.3" cy="1611.2" r="2.9" fill="#fff"/><circle cx="1248.1" cy="1601.9" r="2.9" fill="#fff"/><circle cx="1245.5" cy="1592.5" r="2.9" fill="#fff"/><circle cx="1243.5" cy="1582.9" r="2.9" fill="#fff"/><circle cx="1242.2" cy="1573.2" r="2.9" fill="#fff"/><circle cx="1241.6" cy="1563.4" r="2.9" fill="#fff"/><circle cx="1241.6" cy="1553.6" r="2.9" fill="#fff"/><circle cx="1242.2" cy="1543.8" r="2.9" fill="#fff"/><circle cx="1243.5" cy="1534.1" r="2.9" fill="#fff"/><circle cx="1245.5" cy="1524.5" r="2.9" fill="#fff"/><circle cx="1248.1" cy="1515.1" r="2.9" fill="#fff"/><circle cx="1251.3" cy="1505.8" r="2.9" fill="#fff"/><circle cx="1255.1" cy="1496.8" r="2.9" fill="#fff"/><circle cx="1259.5" cy="1488.1" r="2.9" fill="#fff"/><circle cx="1264.5" cy="1479.7" r="2.9" fill="#fff"/><circle cx="1270.1" cy="1471.6" r="2.9" fill="#fff"/><circle cx="1276.1" cy="1463.9" r="2.9" fill="#fff"/><circle cx="1282.7" cy="1456.7" r="2.9" fill="#fff"/><circle cx="1289.7" cy="1449.8" r="2.9" fill="#fff"/><circle cx="1297.2" cy="1443.5" r="2.9" fill="#fff"/><circle cx="1305.1" cy="1437.7" r="2.9" fill="#fff"/><circle cx="1313.3" cy="1432.5" r="2.9" fill="#fff"/><circle cx="1321.9" cy="1427.7" r="2.9" fill="#fff"/><circle cx="1330.8" cy="1423.6" r="2.9" fill="#fff"/><circle cx="1339.9" cy="1420.1" r="2.9" fill="#fff"/><circle cx="1349.3" cy="1417.2" r="2.9" fill="#fff"/><circle cx="1358.8" cy="1414.9" r="2.9" fill="#fff"/><circle cx="1368.5" cy="1413.3" r="2.9" fill="#fff"/><circle cx="1378.2" cy="1412.3" r="2.9" fill="#fff"/>
<circle cx="2057.5" cy="1412.0" r="2.9" fill="#fff"/><circle cx="2067.3" cy="1412.3" r="2.9" fill="#fff"/><circle cx="2077.0" cy="1413.3" r="2.9" fill="#fff"/><circle cx="2086.7" cy="1414.9" r="2.9" fill="#fff"/><circle cx="2096.2" cy="1417.2" r="2.9" fill="#fff"/><circle cx="2105.6" cy="1420.1" r="2.9" fill="#fff"/><circle cx="2114.7" cy="1423.6" r="2.9" fill="#fff"/><circle cx="2123.6" cy="1427.7" r="2.9" fill="#fff"/><circle cx="2132.2" cy="1432.5" r="2.9" fill="#fff"/><circle cx="2140.4" cy="1437.7" r="2.9" fill="#fff"/><circle cx="2148.3" cy="1443.5" r="2.9" fill="#fff"/><circle cx="2155.8" cy="1449.8" r="2.9" fill="#fff"/><circle cx="2162.8" cy="1456.7" r="2.9" fill="#fff"/><circle cx="2169.4" cy="1463.9" r="2.9" fill="#fff"/><circle cx="2175.4" cy="1471.6" r="2.9" fill="#fff"/><circle cx="2181.0" cy="1479.7" r="2.9" fill="#fff"/><circle cx="2186.0" cy="1488.1" r="2.9" fill="#fff"/><circle cx="2190.4" cy="1496.8" r="2.9" fill="#fff"/><circle cx="2194.2" cy="1505.8" r="2.9" fill="#fff"/><circle cx="2197.4" cy="1515.1" r="2.9" fill="#fff"/><circle cx="2200.0" cy="1524.5" r="2.9" fill="#fff"/><circle cx="2202.0" cy="1534.1" r="2.9" fill="#fff"/><circle cx="2203.3" cy="1543.8" r="2.9" fill="#fff"/><circle cx="2203.9" cy="1553.6" r="2.9" fill="#fff"/><circle cx="2203.9" cy="1563.4" r="2.9" fill="#fff"/><circle cx="2203.3" cy="1573.2" r="2.9" fill="#fff"/><circle cx="2202.0" cy="1582.9" r="2.9" fill="#fff"/><circle cx="2200.0" cy="1592.5" r="2.9" fill="#fff"/><circle cx="2197.4" cy="1601.9" r="2.9" fill="#fff"/><circle cx="2194.2" cy="1611.2" r="2.9" fill="#fff"/><circle cx="2190.4" cy="1620.2" r="2.9" fill="#fff"/><circle cx="2186.0" cy="1628.9" r="2.9" fill="#fff"/><circle cx="2181.0" cy="1637.3" r="2.9" fill="#fff"/><circle cx="2175.4" cy="1645.4" r="2.9" fill="#fff"/><circle cx="2169.4" cy="1653.1" r="2.9" fill="#fff"/><circle cx="2162.8" cy="1660.3" r="2.9" fill="#fff"/><circle cx="2155.8" cy="1667.2" r="2.9" fill="#fff"/><circle cx="2148.3" cy="1673.5" r="2.9" fill="#fff"/><circle cx="2140.4" cy="1679.3" r="2.9" fill="#fff"/><circle cx="2132.2" cy="1684.5" r="2.9" fill="#fff"/><circle cx="2123.6" cy="1689.3" r="2.9" fill="#fff"/><circle cx="2114.7" cy="1693.4" r="2.9" fill="#fff"/><circle cx="2105.6" cy="1696.9" r="2.9" fill="#fff"/><circle cx="2096.2" cy="1699.8" r="2.9" fill="#fff"/><circle cx="2086.7" cy="1702.1" r="2.9" fill="#fff"/><circle cx="2077.0" cy="1703.7" r="2.9" fill="#fff"/><circle cx="2067.3" cy="1704.7" r="2.9" fill="#fff"/><circle cx="2057.5" cy="1705.0" r="2.9" fill="#fff"/><circle cx="2047.7" cy="1704.7" r="2.9" fill="#fff"/><circle cx="2038.0" cy="1703.7" r="2.9" fill="#fff"/><circle cx="2028.3" cy="1702.1" r="2.9" fill="#fff"/><circle cx="2018.8" cy="1699.8" r="2.9" fill="#fff"/><circle cx="2009.4" cy="1696.9" r="2.9" fill="#fff"/><circle cx="2000.3" cy="1693.4" r="2.9" fill="#fff"/><circle cx="1991.4" cy="1689.3" r="2.9" fill="#fff"/><circle cx="1982.8" cy="1684.5" r="2.9" fill="#fff"/><circle cx="1974.6" cy="1679.3" r="2.9" fill="#fff"/><circle cx="1966.7" cy="1673.5" r="2.9" fill="#fff"/><circle cx="1959.2" cy="1667.2" r="2.9" fill="#fff"/><circle cx="1952.2" cy="1660.3" r="2.9" fill="#fff"/><circle cx="1945.6" cy="1653.1" r="2.9" fill="#fff"/><circle cx="1939.6" cy="1645.4" r="2.9" fill="#fff"/><circle cx="1934.0" cy="1637.3" r="2.9" fill="#fff"/><circle cx="1929.0" cy="1628.9" r="2.9" fill="#fff"/><circle cx="1924.6" cy="1620.2" r="2.9" fill="#fff"/><circle cx="1920.8" cy="1611.2" r="2.9" fill="#fff"/><circle cx="1917.6" cy="1601.9" r="2.9" fill="#fff"/><circle cx="1915.0" cy="1592.5" r="2.9" fill="#fff"/><circle cx="1913.0" cy="1582.9" r="2.9" fill="#fff"/><circle cx="1911.7" cy="1573.2" r="2.9" fill="#fff"/><circle cx="1911.1" cy="1563.4" r="2.9" fill="#fff"/><circle cx="1911.1" cy="1553.6" r="2.9" fill="#fff"/><circle cx="1911.7" cy="1543.8" r="2.9" fill="#fff"/><circle cx="1913.0" cy="1534.1" r="2.9" fill="#fff"/><circle cx="1915.0" cy="1524.5" r="2.9" fill="#fff"/><circle cx="1917.6" cy="1515.1" r="2.9" fill="#fff"/><circle cx="1920.8" cy="1505.8" r="2.9" fill="#fff"/><circle cx="1924.6" cy="1496.8" r="2.9" fill="#fff"/><circle cx="1929.0" cy="1488.1" r="2.9" fill="#fff"/><circle cx="1934.0" cy="1479.7" r="2.9" fill="#fff"/><circle cx="1939.6" cy="1471.6" r="2.9" fill="#fff"/><circle cx="1945.6" cy="1463.9" r="2.9" fill="#fff"/><circle cx="1952.2" cy="1456.7" r="2.9" fill="#fff"/><circle cx="1959.2" cy="1449.8" r="2.9" fill="#fff"/><circle cx="1966.7" cy="1443.5" r="2.9" fill="#fff"/><circle cx="1974.6" cy="1437.7" r="2.9" fill="#fff"/><circle cx="1982.8" cy="1432.5" r="2.9" fill="#fff"/><circle cx="1991.4" cy="1427.7" r="2.9" fill="#fff"/><circle cx="2000.3" cy="1423.6" r="2.9" fill="#fff"/><circle cx="2009.4" cy="1420.1" r="2.9" fill="#fff"/><circle cx="2018.8" cy="1417.2" r="2.9" fill="#fff"/><circle cx="2028.3" cy="1414.9" r="2.9" fill="#fff"/><circle cx="2038.0" cy="1413.3" r="2.9" fill="#fff"/><circle cx="2047.7" cy="1412.3" r="2.9" fill="#fff"/>
<circle cx="2727.5" cy="1412.0" r="2.9" fill="#fff"/><circle cx="2737.3" cy="1412.3" r="2.9" fill="#fff"/><circle cx="2747.0" cy="1413.3" r="2.9" fill="#fff"/><circle cx="2756.7" cy="1414.9" r="2.9" fill="#fff"/><circle cx="2766.2" cy="1417.2" r="2.9" fill="#fff"/><circle cx="2775.6" cy="1420.1" r="2.9" fill="#fff"/><circle cx="2784.7" cy="1423.6" r="2.9" fill="#fff"/><circle cx="2793.6" cy="1427.7" r="2.9" fill="#fff"/><circle cx="2802.2" cy="1432.5" r="2.9" fill="#fff"/><circle cx="2810.4" cy="1437.7" r="2.9" fill="#fff"/><circle cx="2818.3" cy="1443.5" r="2.9" fill="#fff"/><circle cx="2825.8" cy="1449.8" r="2.9" fill="#fff"/><circle cx="2832.8" cy="1456.7" r="2.9" fill="#fff"/><circle cx="2839.4" cy="1463.9" r="2.9" fill="#fff"/><circle cx="2845.4" cy="1471.6" r="2.9" fill="#fff"/><circle cx="2851.0" cy="1479.7" r="2.9" fill="#fff"/><circle cx="2856.0" cy="1488.1" r="2.9" fill="#fff"/><circle cx="2860.4" cy="1496.8" r="2.9" fill="#fff"/><circle cx="2864.2" cy="1505.8" r="2.9" fill="#fff"/><circle cx="2867.4" cy="1515.1" r="2.9" fill="#fff"/><circle cx="2870.0" cy="1524.5" r="2.9" fill="#fff"/><circle cx="2872.0" cy="1534.1" r="2.9" fill="#fff"/><circle cx="2873.3" cy="1543.8" r="2.9" fill="#fff"/><circle cx="2873.9" cy="1553.6" r="2.9" fill="#fff"/><circle cx="2873.9" cy="1563.4" r="2.9" fill="#fff"/><circle cx="2873.3" cy="1573.2" r="2.9" fill="#fff"/><circle cx="2872.0" cy="1582.9" r="2.9" fill="#fff"/><circle cx="2870.0" cy="1592.5" r="2.9" fill="#fff"/><circle cx="2867.4" cy="1601.9" r="2.9" fill="#fff"/><circle cx="2864.2" cy="1611.2" r="2.9" fill="#fff"/><circle cx="2860.4" cy="1620.2" r="2.9" fill="#fff"/><circle cx="2856.0" cy="1628.9" r="2.9" fill="#fff"/><circle cx="2851.0" cy="1637.3" r="2.9" fill="#fff"/><circle cx="2845.4" cy="1645.4" r="2.9" fill="#fff"/><circle cx="2839.4" cy="1653.1" r="2.9" fill="#fff"/><circle cx="2832.8" cy="1660.3" r="2.9" fill="#fff"/><circle cx="2825.8" cy="1667.2" r="2.9" fill="#fff"/><circle cx="2818.3" cy="1673.5" r="2.9" fill="#fff"/><circle cx="2810.4" cy="1679.3" r="2.9" fill="#fff"/><circle cx="2802.2" cy="1684.5" r="2.9" fill="#fff"/><circle cx="2793.6" cy="1689.3" r="2.9" fill="#fff"/><circle cx="2784.7" cy="1693.4" r="2.9" fill="#fff"/><circle cx="2775.6" cy="1696.9" r="2.9" fill="#fff"/><circle cx="2766.2" cy="1699.8" r="2.9" fill="#fff"/><circle cx="2756.7" cy="1702.1" r="2.9" fill="#fff"/><circle cx="2747.0" cy="1703.7" r="2.9" fill="#fff"/><circle cx="2737.3" cy="1704.7" r="2.9" fill="#fff"/><circle cx="2727.5" cy="1705.0" r="2.9" fill="#fff"/><circle cx="2717.7" cy="1704.7" r="2.9" fill="#fff"/><circle cx="2708.0" cy="1703.7" r="2.9" fill="#fff"/><circle cx="2698.3" cy="1702.1" r="2.9" fill="#fff"/><circle cx="2688.8" cy="1699.8" r="2.9" fill="#fff"/><circle cx="2679.4" cy="1696.9" r="2.9" fill="#fff"/><circle cx="2670.3" cy="1693.4" r="2.9" fill="#fff"/><circle cx="2661.4" cy="1689.3" r="2.9" fill="#fff"/><circle cx="2652.8" cy="1684.5" r="2.9" fill="#fff"/><circle cx="2644.6" cy="1679.3" r="2.9" fill="#fff"/><circle cx="2636.7" cy="1673.5" r="2.9" fill="#fff"/><circle cx="2629.2" cy="1667.2" r="2.9" fill="#fff"/><circle cx="2622.2" cy="1660.3" r="2.9" fill="#fff"/><circle cx="2615.6" cy="1653.1" r="2.9" fill="#fff"/><circle cx="2609.6" cy="1645.4" r="2.9" fill="#fff"/><circle cx="2604.0" cy="1637.3" r="2.9" fill="#fff"/><circle cx="2599.0" cy="1628.9" r="2.9" fill="#fff"/><circle cx="2594.6" cy="1620.2" r="2.9" fill="#fff"/><circle cx="2590.8" cy="1611.2" r="2.9" fill="#fff"/><circle cx="2587.6" cy="1601.9" r="2.9" fill="#fff"/><circle cx="2585.0" cy="1592.5" r="2.9" fill="#fff"/><circle cx="2583.0" cy="1582.9" r="2.9" fill="#fff"/><circle cx="2581.7" cy="1573.2" r="2.9" fill="#fff"/><circle cx="2581.1" cy="1563.4" r="2.9" fill="#fff"/><circle cx="2581.1" cy="1553.6" r="2.9" fill="#fff"/><circle cx="2581.7" cy="1543.8" r="2.9" fill="#fff"/><circle cx="2583.0" cy="1534.1" r="2.9" fill="#fff"/><circle cx="2585.0" cy="1524.5" r="2.9" fill="#fff"/><circle cx="2587.6" cy="1515.1" r="2.9" fill="#fff"/><circle cx="2590.8" cy="1505.8" r="2.9" fill="#fff"/><circle cx="2594.6" cy="1496.8" r="2.9" fill="#fff"/><circle cx="2599.0" cy="1488.1" r="2.9" fill="#fff"/><circle cx="2604.0" cy="1479.7" r="2.9" fill="#fff"/><circle cx="2609.6" cy="1471.6" r="2.9" fill="#fff"/><circle cx="2615.6" cy="1463.9" r="2.9" fill="#fff"/><circle cx="2622.2" cy="1456.7" r="2.9" fill="#fff"/><circle cx="2629.2" cy="1449.8" r="2.9" fill="#fff"/><circle cx="2636.7" cy="1443.5" r="2.9" fill="#fff"/><circle cx="2644.6" cy="1437.7" r="2.9" fill="#fff"/><circle cx="2652.8" cy="1432.5" r="2.9" fill="#fff"/><circle cx="2661.4" cy="1427.7" r="2.9" fill="#fff"/><circle cx="2670.3" cy="1423.6" r="2.9" fill="#fff"/><circle cx="2679.4" cy="1420.1" r="2.9" fill="#fff"/><circle cx="2688.8" cy="1417.2" r="2.9" fill="#fff"/><circle cx="2698.3" cy="1414.9" r="2.9" fill="#fff"/><circle cx="2708.0" cy="1413.3" r="2.9" fill="#fff"/><circle cx="2717.7" cy="1412.3" r="2.9" fill="#fff"/>
<rect x="1193" y="1666" width="391.5" height="137.5" fill="#203250" stroke="#3b82c8" stroke-width="2.5"/>
<rect x="1860" y="1666" width="391.5" height="137.5" fill="#203250" stroke="#3b82c8" stroke-width="2.5"/>
<rect x="2530" y="1666" width="391.5" height="137.5" fill="#203250" stroke="#3b82c8" stroke-width="2.5"/>
<g transform="translate(1150 1380) scale(0.2551)"><path fill="#fff" fill-rule="evenodd" d="M680,423 H1210 a40,40 0 0 1 40,40 V848 a40,40 0 0 1 -40,40 H680 a40,40 0 0 1 -40,-40 V463 a40,40 0 0 1 40,-40 Z M688,470 V770 H1200 V470 Z"/><path fill="#fff" d="M880,885 H1010 C1012,930 1025,960 1058,983 H832 C865,960 878,930 880,885 Z"/><rect x="862" y="508" width="316" height="240" fill="none" stroke="#fff" stroke-width="12"/><polyline points="890,660 935,615 978,700 1070,560 1110,625 1152,535" fill="none" stroke="#fff" stroke-width="26" stroke-linejoin="miter"/><path fill="#fff" d="M823,552 a55,55 0 1 0 -55,55 V552 Z"/><path fill="#fff" d="M782,566 H828 a46,46 0 0 1 -46,44 Z"/><rect x="722" y="632" width="106" height="24" fill="#fff"/><rect x="722" y="680" width="106" height="24" fill="#fff"/><rect x="722" y="725" width="106" height="24" fill="#fff"/></g>
<g transform="translate(1820 1380) scale(0.2551)"><circle cx="948" cy="771" r="260" fill="none" stroke="#fff" stroke-width="40"/><path fill="#905a5b" d="M600,300 H1300 V690 C1100,655 800,655 600,690 Z"/><path fill="#fff" d="M890,335 H1008 V380 C1120,400 1195,490 1215,640 L1262,655 V690 C1060,650 840,650 638,690 V655 L685,640 C705,490 780,400 890,380 Z"/><path fill="none" stroke="#905a5b" stroke-width="16" stroke-linecap="round" d="M881,385 V470 L799,525"/><path fill="none" stroke="#905a5b" stroke-width="14" stroke-linecap="round" d="M819,400 V460"/><path fill="none" stroke="#905a5b" stroke-width="16" stroke-linecap="round" d="M1017,385 V470 L1099,525"/><path fill="none" stroke="#905a5b" stroke-width="14" stroke-linecap="round" d="M1079,400 V460"/></g>
<g transform="translate(2490 1380) scale(0.2551)"><rect x="570" y="665" width="390" height="120" rx="22" fill="#fff"/><rect x="520" y="770" width="498" height="98" rx="22" fill="#fff"/><rect x="608" y="850" width="62" height="180" fill="#fff"/><rect x="866" y="850" width="64" height="180" fill="#fff"/><path d="M735,345 L678,668 M805,345 L860,668 M728,345 H812 M735,345 L816,410 M805,345 L724,410 M724,410 H816 M724,410 L828,480 M816,410 L711,480 M711,480 H828 M711,480 L842,560 M828,480 L697,560 M697,560 H842 M697,560 L860,668 M842,560 L678,668 M678,668 H860" fill="none" stroke="#fff" stroke-width="14" stroke-linecap="square"/><g transform="translate(968 715) rotate(-39.49)"><path d="M0,-34 H398 M0,34 H398 M398,-34 V34 M0,-34 L57,34 M0,34 L57,-34 M0,-34 V34 M57,-34 L114,34 M57,34 L114,-34 M57,-34 V34 M114,-34 L170,34 M114,34 L170,-34 M114,-34 V34 M170,-34 L227,34 M170,34 L227,-34 M170,-34 V34 M227,-34 L284,34 M227,34 L284,-34 M227,-34 V34 M284,-34 L341,34 M284,34 L341,-34 M284,-34 V34 M341,-34 L398,34 M341,34 L398,-34 M341,-34 V34" fill="none" stroke="#fff" stroke-width="12"/></g><rect x="1263" y="500" width="14" height="568" fill="#fff"/></g>
<circle cx="1347.6" cy="2282.8" r="4.0" fill="#fff"/><circle cx="1364.0" cy="2283.6" r="4.0" fill="#fff"/><circle cx="1380.2" cy="2286.6" r="4.0" fill="#fff"/><circle cx="1395.8" cy="2291.8" r="4.0" fill="#fff"/><circle cx="1410.5" cy="2299.1" r="4.0" fill="#fff"/><circle cx="1424.2" cy="2308.3" r="4.0" fill="#fff"/><circle cx="1436.4" cy="2319.3" r="4.0" fill="#fff"/><circle cx="1447.0" cy="2331.9" r="4.0" fill="#fff"/><circle cx="1455.9" cy="2345.7" r="4.0" fill="#fff"/><circle cx="1462.7" cy="2360.7" r="4.0" fill="#fff"/><circle cx="1467.5" cy="2376.4" r="4.0" fill="#fff"/><circle cx="1470.0" cy="2392.7" r="4.0" fill="#fff"/><circle cx="1470.4" cy="2409.1" r="4.0" fill="#fff"/><circle cx="1468.4" cy="2425.5" r="4.0" fill="#fff"/><circle cx="1464.3" cy="2441.4" r="4.0" fill="#fff"/><circle cx="1458.1" cy="2456.6" r="4.0" fill="#fff"/><circle cx="1449.8" cy="2470.8" r="4.0" fill="#fff"/><circle cx="1439.7" cy="2483.8" r="4.0" fill="#fff"/><circle cx="1427.9" cy="2495.2" r="4.0" fill="#fff"/><circle cx="1414.7" cy="2505.0" r="4.0" fill="#fff"/><circle cx="1400.2" cy="2512.8" r="4.0" fill="#fff"/><circle cx="1384.8" cy="2518.7" r="4.0" fill="#fff"/><circle cx="1368.8" cy="2522.3" r="4.0" fill="#fff"/><circle cx="1352.4" cy="2523.8" r="4.0" fill="#fff"/><circle cx="1336.0" cy="2523.0" r="4.0" fill="#fff"/><circle cx="1319.8" cy="2520.0" r="4.0" fill="#fff"/><circle cx="1304.2" cy="2514.8" r="4.0" fill="#fff"/><circle cx="1289.5" cy="2507.5" r="4.0" fill="#fff"/><circle cx="1275.8" cy="2498.3" r="4.0" fill="#fff"/><circle cx="1263.6" cy="2487.3" r="4.0" fill="#fff"/><circle cx="1253.0" cy="2474.7" r="4.0" fill="#fff"/><circle cx="1244.1" cy="2460.9" r="4.0" fill="#fff"/><circle cx="1237.3" cy="2445.9" r="4.0" fill="#fff"/><circle cx="1232.5" cy="2430.2" r="4.0" fill="#fff"/><circle cx="1230.0" cy="2413.9" r="4.0" fill="#fff"/><circle cx="1229.6" cy="2397.5" r="4.0" fill="#fff"/><circle cx="1231.6" cy="2381.1" r="4.0" fill="#fff"/><circle cx="1235.7" cy="2365.2" r="4.0" fill="#fff"/><circle cx="1241.9" cy="2350.0" r="4.0" fill="#fff"/><circle cx="1250.2" cy="2335.8" r="4.0" fill="#fff"/><circle cx="1260.3" cy="2322.8" r="4.0" fill="#fff"/><circle cx="1272.1" cy="2311.4" r="4.0" fill="#fff"/><circle cx="1285.3" cy="2301.6" r="4.0" fill="#fff"/><circle cx="1299.8" cy="2293.8" r="4.0" fill="#fff"/><circle cx="1315.2" cy="2287.9" r="4.0" fill="#fff"/><circle cx="1331.2" cy="2284.3" r="4.0" fill="#fff"/>
<circle cx="2047.6" cy="2282.8" r="4.0" fill="#fff"/><circle cx="2064.0" cy="2283.6" r="4.0" fill="#fff"/><circle cx="2080.2" cy="2286.6" r="4.0" fill="#fff"/><circle cx="2095.8" cy="2291.8" r="4.0" fill="#fff"/><circle cx="2110.5" cy="2299.1" r="4.0" fill="#fff"/><circle cx="2124.2" cy="2308.3" r="4.0" fill="#fff"/><circle cx="2136.4" cy="2319.3" r="4.0" fill="#fff"/><circle cx="2147.0" cy="2331.9" r="4.0" fill="#fff"/><circle cx="2155.9" cy="2345.7" r="4.0" fill="#fff"/><circle cx="2162.7" cy="2360.7" r="4.0" fill="#fff"/><circle cx="2167.5" cy="2376.4" r="4.0" fill="#fff"/><circle cx="2170.0" cy="2392.7" r="4.0" fill="#fff"/><circle cx="2170.4" cy="2409.1" r="4.0" fill="#fff"/><circle cx="2168.4" cy="2425.5" r="4.0" fill="#fff"/><circle cx="2164.3" cy="2441.4" r="4.0" fill="#fff"/><circle cx="2158.1" cy="2456.6" r="4.0" fill="#fff"/><circle cx="2149.8" cy="2470.8" r="4.0" fill="#fff"/><circle cx="2139.7" cy="2483.8" r="4.0" fill="#fff"/><circle cx="2127.9" cy="2495.2" r="4.0" fill="#fff"/><circle cx="2114.7" cy="2505.0" r="4.0" fill="#fff"/><circle cx="2100.2" cy="2512.8" r="4.0" fill="#fff"/><circle cx="2084.8" cy="2518.7" r="4.0" fill="#fff"/><circle cx="2068.8" cy="2522.3" r="4.0" fill="#fff"/><circle cx="2052.4" cy="2523.8" r="4.0" fill="#fff"/><circle cx="2036.0" cy="2523.0" r="4.0" fill="#fff"/><circle cx="2019.8" cy="2520.0" r="4.0" fill="#fff"/><circle cx="2004.2" cy="2514.8" r="4.0" fill="#fff"/><circle cx="1989.5" cy="2507.5" r="4.0" fill="#fff"/><circle cx="1975.8" cy="2498.3" r="4.0" fill="#fff"/><circle cx="1963.6" cy="2487.3" r="4.0" fill="#fff"/><circle cx="1953.0" cy="2474.7" r="4.0" fill="#fff"/><circle cx="1944.1" cy="2460.9" r="4.0" fill="#fff"/><circle cx="1937.3" cy="2445.9" r="4.0" fill="#fff"/><circle cx="1932.5" cy="2430.2" r="4.0" fill="#fff"/><circle cx="1930.0" cy="2413.9" r="4.0" fill="#fff"/><circle cx="1929.6" cy="2397.5" r="4.0" fill="#fff"/><circle cx="1931.6" cy="2381.1" r="4.0" fill="#fff"/><circle cx="1935.7" cy="2365.2" r="4.0" fill="#fff"/><circle cx="1941.9" cy="2350.0" r="4.0" fill="#fff"/><circle cx="1950.2" cy="2335.8" r="4.0" fill="#fff"/><circle cx="1960.3" cy="2322.8" r="4.0" fill="#fff"/><circle cx="1972.1" cy="2311.4" r="4.0" fill="#fff"/><circle cx="1985.3" cy="2301.6" r="4.0" fill="#fff"/><circle cx="1999.8" cy="2293.8" r="4.0" fill="#fff"/><circle cx="2015.2" cy="2287.9" r="4.0" fill="#fff"/><circle cx="2031.2" cy="2284.3" r="4.0" fill="#fff"/>
<circle cx="2687.9" cy="2282.8" r="4.0" fill="#fff"/><circle cx="2704.3" cy="2283.6" r="4.0" fill="#fff"/><circle cx="2720.5" cy="2286.6" r="4.0" fill="#fff"/><circle cx="2736.1" cy="2291.8" r="4.0" fill="#fff"/><circle cx="2750.8" cy="2299.1" r="4.0" fill="#fff"/><circle cx="2764.5" cy="2308.3" r="4.0" fill="#fff"/><circle cx="2776.7" cy="2319.3" r="4.0" fill="#fff"/><circle cx="2787.3" cy="2331.9" r="4.0" fill="#fff"/><circle cx="2796.2" cy="2345.7" r="4.0" fill="#fff"/><circle cx="2803.0" cy="2360.7" r="4.0" fill="#fff"/><circle cx="2807.8" cy="2376.4" r="4.0" fill="#fff"/><circle cx="2810.3" cy="2392.7" r="4.0" fill="#fff"/><circle cx="2810.7" cy="2409.1" r="4.0" fill="#fff"/><circle cx="2808.7" cy="2425.5" r="4.0" fill="#fff"/><circle cx="2804.6" cy="2441.4" r="4.0" fill="#fff"/><circle cx="2798.4" cy="2456.6" r="4.0" fill="#fff"/><circle cx="2790.1" cy="2470.8" r="4.0" fill="#fff"/><circle cx="2780.0" cy="2483.8" r="4.0" fill="#fff"/><circle cx="2768.2" cy="2495.2" r="4.0" fill="#fff"/><circle cx="2755.0" cy="2505.0" r="4.0" fill="#fff"/><circle cx="2740.5" cy="2512.8" r="4.0" fill="#fff"/><circle cx="2725.1" cy="2518.7" r="4.0" fill="#fff"/><circle cx="2709.1" cy="2522.3" r="4.0" fill="#fff"/><circle cx="2692.7" cy="2523.8" r="4.0" fill="#fff"/><circle cx="2676.3" cy="2523.0" r="4.0" fill="#fff"/><circle cx="2660.1" cy="2520.0" r="4.0" fill="#fff"/><circle cx="2644.5" cy="2514.8" r="4.0" fill="#fff"/><circle cx="2629.8" cy="2507.5" r="4.0" fill="#fff"/><circle cx="2616.1" cy="2498.3" r="4.0" fill="#fff"/><circle cx="2603.9" cy="2487.3" r="4.0" fill="#fff"/><circle cx="2593.3" cy="2474.7" r="4.0" fill="#fff"/><circle cx="2584.4" cy="2460.9" r="4.0" fill="#fff"/><circle cx="2577.6" cy="2445.9" r="4.0" fill="#fff"/><circle cx="2572.8" cy="2430.2" r="4.0" fill="#fff"/><circle cx="2570.3" cy="2413.9" r="4.0" fill="#fff"/><circle cx="2569.9" cy="2397.5" r="4.0" fill="#fff"/><circle cx="2571.9" cy="2381.1" r="4.0" fill="#fff"/><circle cx="2576.0" cy="2365.2" r="4.0" fill="#fff"/><circle cx="2582.2" cy="2350.0" r="4.0" fill="#fff"/><circle cx="2590.5" cy="2335.8" r="4.0" fill="#fff"/><circle cx="2600.6" cy="2322.8" r="4.0" fill="#fff"/><circle cx="2612.4" cy="2311.4" r="4.0" fill="#fff"/><circle cx="2625.6" cy="2301.6" r="4.0" fill="#fff"/><circle cx="2640.1" cy="2293.8" r="4.0" fill="#fff"/><circle cx="2655.5" cy="2287.9" r="4.0" fill="#fff"/><circle cx="2671.5" cy="2284.3" r="4.0" fill="#fff"/>
<g transform="translate(1050 2260) scale(0.3571)"><rect x="665" y="605" width="370" height="45" fill="#333333"/><rect x="665" y="487" width="83" height="125" fill="#333333"/><rect x="778" y="280" width="77" height="330" fill="#333333"/><rect x="765" y="293" width="103" height="15" rx="6" fill="#333333"/><path fill="#333333" d="M885,612 V435 C885,400 915,378 943,378 C972,378 1002,400 1002,435 V612 Z"/><rect x="880" y="432" width="128" height="9" fill="#4aadb6"/><rect x="880" y="492" width="128" height="9" fill="#4aadb6"/><rect x="880" y="548" width="128" height="9" fill="#4aadb6"/><path fill="none" stroke="#333333" stroke-width="9" d="M940,385 V335 H1030 V610"/><path fill="#333333" d="M812,133 C850,165 870,200 855,232 C848,248 832,256 815,258 C835,235 838,212 822,195 C818,215 805,222 800,240 C798,248 802,254 806,258 C785,252 772,235 773,215 C775,180 818,170 812,133 Z"/></g>
<g transform="translate(1750 2260) scale(0.3571)"><path fill="#333333" fill-rule="evenodd" d="M660,248 H1033 a25,25 0 0 1 25,25 V543 a25,25 0 0 1 -25,25 H660 a25,25 0 0 1 -25,-25 V273 a25,25 0 0 1 25,-25 Z M660,272 V498 H1035 V272 Z"/><circle cx="847" cy="535" r="18" fill="#4aadb6"/><path fill="#333333" d="M805,565 H890 C892,600 905,622 935,640 H762 C792,622 803,600 805,565 Z"/><polyline points="715,408 760,408 775,387 805,435 843,305 880,463 915,347 945,408 980,408" fill="none" stroke="#333333" stroke-width="17" stroke-linejoin="round" stroke-linecap="round"/></g>
<g transform="translate(2300 2260) scale(0.3571)"><path fill="#333333" d="M1098,295 C1075,255 1035,240 1000,240 C940,240 895,290 895,345 C895,430 1000,520 1098,637 C1196,520 1302,430 1302,345 C1302,290 1257,240 1196,240 C1161,240 1121,255 1098,295 Z"/><path d="M1172,380 H1225 V440 H1288 V492 H1225 V552 H1172 V492 H1112 V440 H1172 Z" fill="#4aadb6" stroke="#4aadb6" stroke-width="48" stroke-linejoin="miter"/><path d="M1172,380 H1225 V440 H1288 V492 H1225 V552 H1172 V492 H1112 V440 H1172 Z" fill="#333333"/></g>
<rect x="934" y="2380" width="6" height="315" fill="#fff"/>
<rect x="2950" y="2251.5" width="50" height="3" fill="#8ad7e6"/>
<text x="155" y="184" font-size="122" font-weight="bold" fill="#ffffff" textLength="2611" lengthAdjust="spacingAndGlyphs" stroke="#ffffff" stroke-width="1.2" stroke-linejoin="round">Offshore Rig Monitoring : A Complete IoT solution</text>
<text x="1255" y="366.5" font-size="50" font-weight="normal" fill="#ffffff" textLength="1072" lengthAdjust="spacingAndGlyphs" stroke="#ffffff" stroke-width="1.6" stroke-linejoin="round">FUTURE OF IoT IN OFFSHORE RIG MONITORING</text>
<text x="865" y="494" font-size="51" font-weight="normal" fill="#2b3446" textLength="1901" lengthAdjust="spacingAndGlyphs" stroke="#2b3446" stroke-width="1.6" stroke-linejoin="round">IoT in the Oil and Gas market globally is anticipated to grow to $30.57 billion by 2026.</text>
<text x="865" y="602" font-size="51" font-weight="normal" fill="#2b3446" textLength="1860" lengthAdjust="spacingAndGlyphs" stroke="#2b3446" stroke-width="1.6" stroke-linejoin="round">According to a McKinsey report, IoT brings with it a total potential economic impact</text>
<text x="865" y="665.5" font-size="51" font-weight="normal" fill="#2b3446" textLength="1123" lengthAdjust="spacingAndGlyphs" stroke="#2b3446" stroke-width="1.6" stroke-linejoin="round">of $3.9T to $11.1T by 2025 in Oil and Gas industry.</text>
<text x="865" y="765.5" font-size="51" font-weight="normal" fill="#2b3446" textLength="1867" lengthAdjust="spacingAndGlyphs" stroke="#2b3446" stroke-width="1.6" stroke-linejoin="round">Despite the fluctuating Oil price environment, the majority of Oil and Gas companies</text>
<text x="865" y="829.5" font-size="51" font-weight="normal" fill="#2b3446" textLength="1865" lengthAdjust="spacingAndGlyphs" stroke="#2b3446" stroke-width="1.6" stroke-linejoin="round">will continue to invest at least the same amount or more in digital technologies over</text>
<text x="865" y="893.5" font-size="51" font-weight="normal" fill="#2b3446" textLength="410" lengthAdjust="spacingAndGlyphs" stroke="#2b3446" stroke-width="1.6" stroke-linejoin="round">the next 3-5 years.</text>
<text x="1784" y="1090" font-size="49" font-weight="normal" fill="#ffffff" textLength="622" lengthAdjust="spacingAndGlyphs" stroke="#ffffff" stroke-width="1.6" stroke-linejoin="round">IMPLEMENTED SOLUTIONS</text>
<text x="1210.5" y="1746" font-size="41" font-weight="normal" fill="#ffffff" textLength="355.5" lengthAdjust="spacingAndGlyphs" stroke="#ffffff" stroke-width="1.5" stroke-linejoin="round">Remote Monitoring</text>
<text x="1900" y="1721" font-size="41" font-weight="normal" fill="#ffffff" textLength="311.5" lengthAdjust="spacingAndGlyphs" stroke="#ffffff" stroke-width="1.5" stroke-linejoin="round">Improved worker</text>
<text x="2005.5" y="1780" font-size="41" font-weight="normal" fill="#ffffff" textLength="111.5" lengthAdjust="spacingAndGlyphs" stroke="#ffffff" stroke-width="1.5" stroke-linejoin="round">safety</text>
<text x="2619.5" y="1718" font-size="41" font-weight="normal" fill="#ffffff" textLength="213.5" lengthAdjust="spacingAndGlyphs" stroke="#ffffff" stroke-width="1.5" stroke-linejoin="round">An eye over</text>
<text x="2645" y="1776.7" font-size="41" font-weight="normal" fill="#ffffff" textLength="163.5" lengthAdjust="spacingAndGlyphs" stroke="#ffffff" stroke-width="1.5" stroke-linejoin="round">entire rig</text>
<text x="1120.5" y="1855.5" font-size="32" font-weight="normal" fill="#ffffff" textLength="511.5" lengthAdjust="spacingAndGlyphs" stroke="#ffffff" stroke-width="1.0" stroke-linejoin="round">Sensors detect the malfunctioning</text>
<text x="1101.5" y="1895.7" font-size="32" font-weight="normal" fill="#ffffff" textLength="543.0" lengthAdjust="spacingAndGlyphs" stroke="#ffffff" stroke-width="1.0" stroke-linejoin="round">very early and hence send the alerts.</text>
<text x="1173" y="1958.2" font-size="32" font-weight="normal" fill="#ffffff" textLength="406.5" lengthAdjust="spacingAndGlyphs" stroke="#ffffff" stroke-width="1.0" stroke-linejoin="round">Reduced Equipment Failure</text>
<text x="1173" y="2017" font-size="32" font-weight="normal" fill="#ffffff" textLength="290.2" lengthAdjust="spacingAndGlyphs" stroke="#ffffff" stroke-width="1.0" stroke-linejoin="round">Advances Analytics</text>
<text x="1173" y="2076" font-size="32" font-weight="normal" fill="#ffffff" textLength="495.6" lengthAdjust="spacingAndGlyphs" stroke="#ffffff" stroke-width="1.0" stroke-linejoin="round">Reduce expensive and unplanned</text>
<text x="1137" y="2134" font-size="32" font-weight="normal" fill="#ffffff" textLength="313.4" lengthAdjust="spacingAndGlyphs" stroke="#ffffff" stroke-width="1.0" stroke-linejoin="round">equipment downtime</text>
<circle cx="1141.8" cy="1947.2" r="3.6" fill="#fff"/>
<circle cx="1141.8" cy="2006" r="3.6" fill="#fff"/>
<circle cx="1141.8" cy="2065" r="3.6" fill="#fff"/>
<text x="1828.6" y="1853" font-size="32" font-weight="normal" fill="#ffffff" textLength="453.4" lengthAdjust="spacingAndGlyphs" stroke="#ffffff" stroke-width="1.0" stroke-linejoin="round">Proactive alerts and Predictive</text>
<text x="1818" y="1893" font-size="32" font-weight="normal" fill="#ffffff" textLength="474.8" lengthAdjust="spacingAndGlyphs" stroke="#ffffff" stroke-width="1.0" stroke-linejoin="round">maintenance save lives of many</text>
<text x="1813" y="1933" font-size="32" font-weight="normal" fill="#ffffff" textLength="485" lengthAdjust="spacingAndGlyphs" stroke="#ffffff" stroke-width="1.0" stroke-linejoin="round">workers and made their life a se-</text>
<text x="1977.8" y="1973" font-size="32" font-weight="normal" fill="#ffffff" textLength="155.0" lengthAdjust="spacingAndGlyphs" stroke="#ffffff" stroke-width="1.0" stroke-linejoin="round">cured one.</text>
<text x="1813" y="2025" font-size="32" font-weight="normal" fill="#ffffff" textLength="349.5" lengthAdjust="spacingAndGlyphs" stroke="#ffffff" stroke-width="1.0" stroke-linejoin="round">Predictive Maintenance</text>
<text x="1813" y="2084" font-size="32" font-weight="normal" fill="#ffffff" textLength="447" lengthAdjust="spacingAndGlyphs" stroke="#ffffff" stroke-width="1.0" stroke-linejoin="round">Real-time alerts if they enter a</text>
<text x="1776.8" y="2141.8" font-size="32" font-weight="normal" fill="#ffffff" textLength="229.6" lengthAdjust="spacingAndGlyphs" stroke="#ffffff" stroke-width="1.0" stroke-linejoin="round">dangerous area</text>
<text x="1813" y="2199.3" font-size="32" font-weight="normal" fill="#ffffff" textLength="607.7" lengthAdjust="spacingAndGlyphs" stroke="#ffffff" stroke-width="1.0" stroke-linejoin="round">Equip workers with wearable IoT sensors</text>
<circle cx="1781.4" cy="2014" r="3.6" fill="#fff"/>
<circle cx="1781.4" cy="2073" r="3.6" fill="#fff"/>
<circle cx="1781.4" cy="2188.3" r="3.6" fill="#fff"/>
<text x="2576.8" y="1867.3" font-size="32" font-weight="normal" fill="#ffffff" textLength="322.2" lengthAdjust="spacingAndGlyphs" stroke="#ffffff" stroke-width="1.0" stroke-linejoin="round">Improves Compliance</text>
<text x="2576.8" y="1925.7" font-size="32" font-weight="normal" fill="#ffffff" textLength="209.2" lengthAdjust="spacingAndGlyphs" stroke="#ffffff" stroke-width="1.0" stroke-linejoin="round">Track workers</text>
<text x="2576.8" y="1983.8" font-size="32" font-weight="normal" fill="#ffffff" textLength="372.7" lengthAdjust="spacingAndGlyphs" stroke="#ffffff" stroke-width="1.0" stroke-linejoin="round">Improved Operations and</text>
<text x="2540.4" y="2042" font-size="32" font-weight="normal" fill="#ffffff" textLength="265.4" lengthAdjust="spacingAndGlyphs" stroke="#ffffff" stroke-width="1.0" stroke-linejoin="round">maintenance cost</text>
<circle cx="2545.4" cy="1856.3" r="3.6" fill="#fff"/>
<circle cx="2545.4" cy="1914.7" r="3.6" fill="#fff"/>
<circle cx="2545.4" cy="1972.8" r="3.6" fill="#fff"/>
<text x="107" y="2695" font-size="155" font-weight="bold" fill="#33306b" textLength="722" lengthAdjust="spacingAndGlyphs" stroke="#33306b" stroke-width="2.6" stroke-linejoin="round">Challenges</text>
<text x="1234" y="2615" font-size="48" font-weight="bold" fill="#33306b" textLength="233" lengthAdjust="spacingAndGlyphs" stroke="#33306b" stroke-width="0.8" stroke-linejoin="round">Visibilities</text>
<text x="1902.8" y="2580.3" font-size="48" font-weight="bold" fill="#33306b" textLength="278.6" lengthAdjust="spacingAndGlyphs" stroke="#33306b" stroke-width="0.8" stroke-linejoin="round">No real-time</text>
<text x="1916" y="2639" font-size="48" font-weight="bold" fill="#33306b" textLength="265.4" lengthAdjust="spacingAndGlyphs" stroke="#33306b" stroke-width="0.8" stroke-linejoin="round">data access</text>
<text x="2513" y="2580.3" font-size="48" font-weight="bold" fill="#33306b" textLength="360" lengthAdjust="spacingAndGlyphs" stroke="#33306b" stroke-width="0.8" stroke-linejoin="round">The risk to a life</text>
<text x="2580" y="2639" font-size="48" font-weight="bold" fill="#33306b" textLength="237" lengthAdjust="spacingAndGlyphs" stroke="#33306b" stroke-width="0.8" stroke-linejoin="round">of workers</text>
<text x="1116" y="2699" font-size="37" font-weight="bold" fill="#333333" textLength="493" lengthAdjust="spacingAndGlyphs">Equipment below sea level</text>
<text x="1141" y="2749" font-size="37" font-weight="bold" fill="#333333" textLength="441" lengthAdjust="spacingAndGlyphs">could not be monitored.</text>
<text x="1795.7" y="2699" font-size="37" font-weight="bold" fill="#333333" textLength="492.8" lengthAdjust="spacingAndGlyphs">Equipment below sea level</text>
<text x="1820.7" y="2749" font-size="37" font-weight="bold" fill="#333333" textLength="441.7" lengthAdjust="spacingAndGlyphs">could not be monitored.</text>
<text x="2456" y="2699" font-size="37" font-weight="bold" fill="#333333" textLength="493" lengthAdjust="spacingAndGlyphs">Equipment below sea level</text>
<text x="2481" y="2749" font-size="37" font-weight="bold" fill="#333333" textLength="442" lengthAdjust="spacingAndGlyphs">could not be monitored.</text>
<text x="1293.6" y="2886" font-size="49" font-weight="bold" fill="#ffffff" textLength="483.2" lengthAdjust="spacingAndGlyphs" stroke="#ffffff" stroke-width="0.6" stroke-linejoin="round">www.Biz4Intellia.com</text>
</svg>
</body></html>
